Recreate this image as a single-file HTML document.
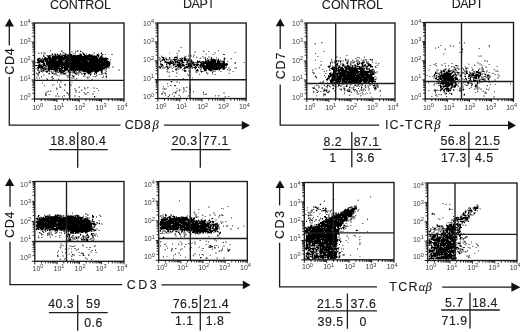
<!DOCTYPE html>
<html><head><meta charset="utf-8">
<style>
html,body{margin:0;padding:0;background:#fff;width:520px;height:332px;overflow:hidden}
svg{position:absolute;left:0;top:0;display:block}
#w{position:absolute;left:0;top:0;width:520px;height:332px;filter:grayscale(1)}
text{font-family:"Liberation Sans",sans-serif;fill:#1a1a1a}
.tl{font-size:7px;fill:#383838}
.sup{font-size:5.6px}
.t{font-size:12.5px;stroke:#1a1a1a;stroke-width:0.1px}
.ax{font-size:12.5px;stroke:#1a1a1a;stroke-width:0.12px}
.n{font-size:12.3px;letter-spacing:0.5px;stroke:#1a1a1a;stroke-width:0.15px}
.g{font-family:"Liberation Serif",serif;font-style:italic}
</style></head><body><div id="w">
<svg width="520" height="332" viewBox="0 0 520 332">
<path fill="#b4b4b4" d="M322 42h1v1h-1zM314 43h1v1h-1zM321 43h1v1h-1zM459 43h1v1h-1zM464 43h1v1h-1zM315 44h1v1h-1zM441 45h1v1h-1zM449 45h1v1h-1zM453 45h1v1h-1zM488 45h1v1h-1zM450 46h1v1h-1zM452 46h1v1h-1zM180 47h1v1h-1zM435 47h1v1h-1zM489 47h1v1h-1zM445 48h1v1h-1zM462 48h1v1h-1zM478 48h1v1h-1zM444 49h1v1h-1zM61 50h2v1h-2zM75 50h1v1h-1zM78 50h1v1h-1zM80 50h1v1h-1zM178 50h2v1h-2zM203 50h1v1h-1zM50 51h1v1h-1zM62 51h1v1h-1zM71 51h2v1h-2zM76 51h1v1h-1zM78 51h1v1h-1zM81 51h1v1h-1zM178 51h2v1h-2zM194 51h2v1h-2zM204 51h1v1h-1zM209 51h1v1h-1zM218 51h1v1h-1zM324 51h1v1h-1zM38 52h1v1h-1zM43 52h1v1h-1zM62 52h1v1h-1zM64 52h1v1h-1zM71 52h2v1h-2zM83 52h1v1h-1zM93 52h2v1h-2zM169 52h1v1h-1zM194 52h2v1h-2zM214 52h2v1h-2zM234 52h1v1h-1zM460 52h1v1h-1zM462 52h1v1h-1zM39 53h1v1h-1zM44 53h1v1h-1zM51 53h2v1h-2zM54 53h2v1h-2zM57 53h1v1h-1zM59 53h1v1h-1zM62 53h3v1h-3zM66 53h1v1h-1zM69 53h1v1h-1zM74 53h2v1h-2zM79 53h1v1h-1zM84 53h1v1h-1zM93 53h2v1h-2zM98 53h1v1h-1zM100 53h1v1h-1zM169 53h1v1h-1zM176 53h1v1h-1zM206 53h1v1h-1zM214 53h2v1h-2zM443 53h2v1h-2zM44 54h1v1h-1zM51 54h1v1h-1zM53 54h1v1h-1zM56 54h1v1h-1zM58 54h2v1h-2zM61 54h3v1h-3zM69 54h1v1h-1zM72 54h2v1h-2zM75 54h1v1h-1zM78 54h1v1h-1zM85 54h2v1h-2zM91 54h1v1h-1zM96 54h1v1h-1zM99 54h1v1h-1zM101 54h1v1h-1zM103 54h1v1h-1zM190 54h1v1h-1zM193 54h2v1h-2zM205 54h2v1h-2zM212 54h1v1h-1zM443 54h1v1h-1zM44 55h1v1h-1zM46 55h1v1h-1zM82 55h2v1h-2zM95 55h1v1h-1zM99 55h1v1h-1zM161 55h1v1h-1zM191 55h1v1h-1zM193 55h2v1h-2zM347 55h1v1h-1zM478 55h1v1h-1zM480 55h2v1h-2zM51 56h1v1h-1zM99 56h1v1h-1zM162 56h1v1h-1zM175 56h2v1h-2zM184 56h1v1h-1zM186 56h1v1h-1zM188 56h1v1h-1zM190 56h2v1h-2zM196 56h1v1h-1zM203 56h1v1h-1zM208 56h2v1h-2zM318 56h1v1h-1zM336 56h2v1h-2zM364 56h1v1h-1zM478 56h4v1h-4zM39 57h1v1h-1zM42 57h1v1h-1zM46 57h2v1h-2zM51 57h1v1h-1zM104 57h1v1h-1zM106 57h1v1h-1zM158 57h1v1h-1zM161 57h1v1h-1zM164 57h3v1h-3zM170 57h1v1h-1zM181 57h3v1h-3zM185 57h1v1h-1zM193 57h1v1h-1zM197 57h1v1h-1zM200 57h1v1h-1zM203 57h2v1h-2zM208 57h2v1h-2zM336 57h2v1h-2zM358 57h1v1h-1zM37 58h1v1h-1zM41 58h1v1h-1zM43 58h1v1h-1zM108 58h1v1h-1zM159 58h1v1h-1zM162 58h1v1h-1zM164 58h1v1h-1zM170 58h1v1h-1zM175 58h1v1h-1zM183 58h1v1h-1zM186 58h3v1h-3zM199 58h1v1h-1zM203 58h2v1h-2zM210 58h1v1h-1zM212 58h2v1h-2zM216 58h1v1h-1zM218 58h1v1h-1zM223 58h1v1h-1zM230 58h1v1h-1zM331 58h1v1h-1zM340 58h1v1h-1zM356 58h1v1h-1zM359 58h1v1h-1zM108 59h1v1h-1zM160 59h1v1h-1zM165 59h1v1h-1zM170 59h2v1h-2zM178 59h2v1h-2zM183 59h1v1h-1zM189 59h1v1h-1zM206 59h2v1h-2zM217 59h1v1h-1zM220 59h1v1h-1zM223 59h1v1h-1zM231 59h1v1h-1zM315 59h1v1h-1zM346 59h3v1h-3zM352 59h1v1h-1zM356 59h3v1h-3zM361 59h1v1h-1zM363 59h2v1h-2zM369 59h1v1h-1zM371 59h1v1h-1zM110 60h1v1h-1zM159 60h2v1h-2zM165 60h4v1h-4zM172 60h2v1h-2zM176 60h1v1h-1zM183 60h1v1h-1zM190 60h1v1h-1zM192 60h1v1h-1zM199 60h1v1h-1zM209 60h1v1h-1zM219 60h1v1h-1zM221 60h1v1h-1zM331 60h2v1h-2zM334 60h1v1h-1zM337 60h1v1h-1zM341 60h3v1h-3zM346 60h2v1h-2zM353 60h1v1h-1zM358 60h1v1h-1zM361 60h2v1h-2zM365 60h2v1h-2zM370 60h2v1h-2zM485 60h1v1h-1zM487 60h1v1h-1zM37 61h1v1h-1zM110 61h1v1h-1zM161 61h1v1h-1zM167 61h3v1h-3zM183 61h1v1h-1zM190 61h1v1h-1zM196 61h1v1h-1zM201 61h1v1h-1zM216 61h1v1h-1zM228 61h1v1h-1zM320 61h1v1h-1zM331 61h2v1h-2zM337 61h1v1h-1zM339 61h1v1h-1zM341 61h3v1h-3zM346 61h1v1h-1zM350 61h1v1h-1zM352 61h2v1h-2zM364 61h1v1h-1zM367 61h2v1h-2zM372 61h1v1h-1zM484 61h1v1h-1zM486 61h1v1h-1zM35 62h1v1h-1zM40 62h1v1h-1zM44 62h2v1h-2zM110 62h1v1h-1zM160 62h1v1h-1zM180 62h1v1h-1zM188 62h1v1h-1zM190 62h1v1h-1zM221 62h1v1h-1zM234 62h1v1h-1zM243 62h1v1h-1zM331 62h1v1h-1zM333 62h1v1h-1zM336 62h2v1h-2zM348 62h1v1h-1zM351 62h2v1h-2zM356 62h1v1h-1zM358 62h1v1h-1zM360 62h2v1h-2zM375 62h2v1h-2zM461 62h1v1h-1zM477 62h2v1h-2zM37 63h1v1h-1zM40 63h1v1h-1zM42 63h1v1h-1zM45 63h1v1h-1zM110 63h1v1h-1zM161 63h1v1h-1zM176 63h1v1h-1zM183 63h1v1h-1zM186 63h1v1h-1zM195 63h1v1h-1zM198 63h1v1h-1zM234 63h1v1h-1zM332 63h1v1h-1zM334 63h1v1h-1zM336 63h1v1h-1zM338 63h1v1h-1zM340 63h2v1h-2zM343 63h1v1h-1zM348 63h1v1h-1zM351 63h3v1h-3zM356 63h1v1h-1zM360 63h1v1h-1zM375 63h2v1h-2zM379 63h1v1h-1zM436 63h1v1h-1zM445 63h1v1h-1zM452 63h1v1h-1zM468 63h1v1h-1zM477 63h4v1h-4zM45 64h1v1h-1zM110 64h1v1h-1zM167 64h2v1h-2zM172 64h1v1h-1zM184 64h1v1h-1zM199 64h1v1h-1zM205 64h1v1h-1zM320 64h2v1h-2zM335 64h1v1h-1zM341 64h1v1h-1zM344 64h1v1h-1zM348 64h1v1h-1zM351 64h1v1h-1zM359 64h1v1h-1zM363 64h1v1h-1zM367 64h1v1h-1zM371 64h1v1h-1zM378 64h1v1h-1zM433 64h1v1h-1zM435 64h1v1h-1zM441 64h2v1h-2zM468 64h2v1h-2zM474 64h1v1h-1zM479 64h3v1h-3zM488 64h1v1h-1zM160 65h1v1h-1zM166 65h2v1h-2zM170 65h1v1h-1zM172 65h1v1h-1zM174 65h1v1h-1zM186 65h2v1h-2zM195 65h1v1h-1zM198 65h1v1h-1zM227 65h1v1h-1zM320 65h2v1h-2zM328 65h2v1h-2zM332 65h1v1h-1zM334 65h1v1h-1zM340 65h1v1h-1zM345 65h2v1h-2zM349 65h1v1h-1zM358 65h1v1h-1zM361 65h1v1h-1zM366 65h1v1h-1zM376 65h1v1h-1zM429 65h1v1h-1zM435 65h1v1h-1zM441 65h2v1h-2zM445 65h1v1h-1zM457 65h2v1h-2zM475 65h1v1h-1zM482 65h1v1h-1zM37 66h1v1h-1zM112 66h2v1h-2zM158 66h1v1h-1zM162 66h2v1h-2zM165 66h1v1h-1zM168 66h4v1h-4zM173 66h2v1h-2zM181 66h1v1h-1zM192 66h3v1h-3zM197 66h1v1h-1zM199 66h1v1h-1zM225 66h1v1h-1zM327 66h1v1h-1zM333 66h1v1h-1zM337 66h1v1h-1zM340 66h2v1h-2zM343 66h1v1h-1zM351 66h1v1h-1zM353 66h1v1h-1zM369 66h1v1h-1zM436 66h1v1h-1zM448 66h1v1h-1zM452 66h3v1h-3zM457 66h2v1h-2zM464 66h2v1h-2zM485 66h2v1h-2zM496 66h1v1h-1zM47 67h1v1h-1zM60 67h1v1h-1zM109 67h1v1h-1zM112 67h2v1h-2zM161 67h2v1h-2zM166 67h1v1h-1zM170 67h2v1h-2zM173 67h5v1h-5zM189 67h1v1h-1zM228 67h2v1h-2zM234 67h2v1h-2zM318 67h1v1h-1zM331 67h1v1h-1zM337 67h1v1h-1zM357 67h1v1h-1zM364 67h2v1h-2zM371 67h1v1h-1zM451 67h1v1h-1zM453 67h1v1h-1zM455 67h2v1h-2zM462 67h1v1h-1zM465 67h1v1h-1zM467 67h1v1h-1zM471 67h2v1h-2zM481 67h1v1h-1zM485 67h2v1h-2zM39 68h1v1h-1zM68 68h1v1h-1zM105 68h1v1h-1zM108 68h2v1h-2zM159 68h1v1h-1zM163 68h2v1h-2zM171 68h1v1h-1zM175 68h1v1h-1zM178 68h2v1h-2zM181 68h1v1h-1zM186 68h2v1h-2zM189 68h1v1h-1zM191 68h1v1h-1zM194 68h1v1h-1zM196 68h1v1h-1zM199 68h2v1h-2zM225 68h1v1h-1zM228 68h2v1h-2zM234 68h3v1h-3zM315 68h2v1h-2zM319 68h1v1h-1zM329 68h1v1h-1zM339 68h1v1h-1zM344 68h1v1h-1zM365 68h1v1h-1zM444 68h3v1h-3zM448 68h1v1h-1zM454 68h1v1h-1zM456 68h2v1h-2zM459 68h1v1h-1zM463 68h1v1h-1zM468 68h1v1h-1zM472 68h1v1h-1zM480 68h2v1h-2zM483 68h1v1h-1zM40 69h1v1h-1zM63 69h1v1h-1zM104 69h1v1h-1zM118 69h2v1h-2zM166 69h1v1h-1zM168 69h1v1h-1zM177 69h1v1h-1zM179 69h1v1h-1zM183 69h1v1h-1zM195 69h2v1h-2zM198 69h1v1h-1zM201 69h1v1h-1zM207 69h1v1h-1zM220 69h1v1h-1zM229 69h1v1h-1zM312 69h2v1h-2zM316 69h1v1h-1zM323 69h1v1h-1zM331 69h1v1h-1zM344 69h1v1h-1zM370 69h1v1h-1zM429 69h1v1h-1zM436 69h3v1h-3zM443 69h1v1h-1zM446 69h1v1h-1zM449 69h1v1h-1zM452 69h1v1h-1zM456 69h2v1h-2zM459 69h1v1h-1zM465 69h1v1h-1zM473 69h1v1h-1zM479 69h1v1h-1zM481 69h1v1h-1zM493 69h1v1h-1zM39 70h1v1h-1zM46 70h1v1h-1zM50 70h2v1h-2zM53 70h1v1h-1zM58 70h1v1h-1zM104 70h3v1h-3zM118 70h2v1h-2zM167 70h1v1h-1zM172 70h1v1h-1zM175 70h1v1h-1zM182 70h2v1h-2zM186 70h1v1h-1zM188 70h2v1h-2zM195 70h1v1h-1zM200 70h2v1h-2zM208 70h1v1h-1zM212 70h1v1h-1zM214 70h2v1h-2zM218 70h1v1h-1zM228 70h1v1h-1zM230 70h1v1h-1zM312 70h2v1h-2zM330 70h1v1h-1zM358 70h1v1h-1zM366 70h3v1h-3zM373 70h1v1h-1zM428 70h2v1h-2zM436 70h3v1h-3zM442 70h1v1h-1zM445 70h3v1h-3zM454 70h1v1h-1zM463 70h1v1h-1zM465 70h1v1h-1zM467 70h1v1h-1zM471 70h1v1h-1zM473 70h1v1h-1zM481 70h1v1h-1zM483 70h1v1h-1zM486 70h2v1h-2zM495 70h3v1h-3zM38 71h1v1h-1zM40 71h1v1h-1zM44 71h1v1h-1zM48 71h1v1h-1zM50 71h1v1h-1zM52 71h1v1h-1zM54 71h1v1h-1zM65 71h1v1h-1zM67 71h1v1h-1zM70 71h2v1h-2zM81 71h1v1h-1zM100 71h1v1h-1zM105 71h1v1h-1zM166 71h1v1h-1zM169 71h1v1h-1zM186 71h1v1h-1zM188 71h1v1h-1zM195 71h1v1h-1zM198 71h1v1h-1zM203 71h3v1h-3zM210 71h2v1h-2zM214 71h1v1h-1zM221 71h1v1h-1zM232 71h1v1h-1zM312 71h1v1h-1zM326 71h1v1h-1zM376 71h2v1h-2zM435 71h3v1h-3zM440 71h1v1h-1zM445 71h1v1h-1zM451 71h1v1h-1zM455 71h3v1h-3zM475 71h1v1h-1zM479 71h3v1h-3zM487 71h1v1h-1zM495 71h2v1h-2zM498 71h1v1h-1zM36 72h1v1h-1zM42 72h1v1h-1zM49 72h1v1h-1zM53 72h1v1h-1zM64 72h4v1h-4zM71 72h1v1h-1zM81 72h1v1h-1zM83 72h3v1h-3zM92 72h1v1h-1zM94 72h1v1h-1zM97 72h1v1h-1zM104 72h1v1h-1zM167 72h2v1h-2zM176 72h2v1h-2zM189 72h1v1h-1zM195 72h1v1h-1zM197 72h1v1h-1zM207 72h1v1h-1zM314 72h1v1h-1zM331 72h2v1h-2zM336 72h1v1h-1zM376 72h2v1h-2zM437 72h1v1h-1zM439 72h1v1h-1zM442 72h2v1h-2zM450 72h1v1h-1zM464 72h2v1h-2zM471 72h2v1h-2zM475 72h1v1h-1zM481 72h1v1h-1zM484 72h1v1h-1zM488 72h1v1h-1zM39 73h1v1h-1zM51 73h1v1h-1zM56 73h1v1h-1zM66 73h1v1h-1zM70 73h1v1h-1zM72 73h2v1h-2zM79 73h1v1h-1zM91 73h1v1h-1zM95 73h1v1h-1zM104 73h1v1h-1zM176 73h2v1h-2zM187 73h1v1h-1zM199 73h1v1h-1zM206 73h1v1h-1zM208 73h1v1h-1zM228 73h1v1h-1zM326 73h1v1h-1zM369 73h1v1h-1zM375 73h2v1h-2zM434 73h1v1h-1zM440 73h1v1h-1zM454 73h1v1h-1zM457 73h1v1h-1zM459 73h1v1h-1zM461 73h2v1h-2zM465 73h1v1h-1zM476 73h2v1h-2zM481 73h1v1h-1zM483 73h3v1h-3zM43 74h1v1h-1zM48 74h2v1h-2zM53 74h1v1h-1zM60 74h3v1h-3zM68 74h1v1h-1zM77 74h1v1h-1zM82 74h1v1h-1zM88 74h2v1h-2zM91 74h1v1h-1zM95 74h2v1h-2zM100 74h1v1h-1zM102 74h1v1h-1zM105 74h2v1h-2zM187 74h2v1h-2zM207 74h1v1h-1zM212 74h1v1h-1zM214 74h1v1h-1zM313 74h1v1h-1zM435 74h1v1h-1zM438 74h1v1h-1zM459 74h3v1h-3zM464 74h1v1h-1zM474 74h1v1h-1zM486 74h1v1h-1zM494 74h1v1h-1zM497 74h1v1h-1zM37 75h1v1h-1zM43 75h2v1h-2zM58 75h2v1h-2zM66 75h1v1h-1zM71 75h1v1h-1zM73 75h2v1h-2zM78 75h1v1h-1zM83 75h2v1h-2zM97 75h1v1h-1zM103 75h1v1h-1zM105 75h2v1h-2zM169 75h1v1h-1zM189 75h1v1h-1zM315 75h1v1h-1zM426 75h1v1h-1zM435 75h1v1h-1zM437 75h2v1h-2zM451 75h1v1h-1zM457 75h1v1h-1zM459 75h1v1h-1zM461 75h1v1h-1zM464 75h2v1h-2zM485 75h2v1h-2zM490 75h1v1h-1zM498 75h2v1h-2zM38 76h1v1h-1zM51 76h1v1h-1zM59 76h1v1h-1zM66 76h3v1h-3zM74 76h1v1h-1zM85 76h1v1h-1zM87 76h3v1h-3zM94 76h1v1h-1zM96 76h1v1h-1zM105 76h1v1h-1zM168 76h1v1h-1zM175 76h1v1h-1zM314 76h1v1h-1zM316 76h1v1h-1zM325 76h1v1h-1zM374 76h1v1h-1zM430 76h1v1h-1zM433 76h1v1h-1zM435 76h1v1h-1zM437 76h1v1h-1zM454 76h1v1h-1zM459 76h1v1h-1zM480 76h1v1h-1zM482 76h2v1h-2zM486 76h1v1h-1zM498 76h2v1h-2zM36 77h2v1h-2zM39 77h1v1h-1zM41 77h1v1h-1zM67 77h1v1h-1zM69 77h1v1h-1zM71 77h2v1h-2zM74 77h1v1h-1zM86 77h1v1h-1zM88 77h2v1h-2zM95 77h1v1h-1zM103 77h1v1h-1zM105 77h1v1h-1zM192 77h1v1h-1zM315 77h1v1h-1zM327 77h1v1h-1zM330 77h1v1h-1zM374 77h1v1h-1zM376 77h1v1h-1zM433 77h3v1h-3zM437 77h1v1h-1zM453 77h1v1h-1zM465 77h1v1h-1zM468 77h2v1h-2zM477 77h1v1h-1zM483 77h1v1h-1zM485 77h1v1h-1zM490 77h1v1h-1zM497 77h2v1h-2zM36 78h2v1h-2zM47 78h1v1h-1zM58 78h1v1h-1zM71 78h4v1h-4zM77 78h1v1h-1zM88 78h1v1h-1zM106 78h1v1h-1zM182 78h1v1h-1zM192 78h1v1h-1zM316 78h1v1h-1zM326 78h1v1h-1zM374 78h3v1h-3zM433 78h2v1h-2zM438 78h1v1h-1zM462 78h2v1h-2zM477 78h1v1h-1zM479 78h1v1h-1zM483 78h1v1h-1zM485 78h1v1h-1zM489 78h1v1h-1zM497 78h2v1h-2zM51 79h1v1h-1zM59 79h1v1h-1zM75 79h2v1h-2zM91 79h1v1h-1zM328 79h1v1h-1zM330 79h1v1h-1zM376 79h1v1h-1zM435 79h1v1h-1zM458 79h1v1h-1zM462 79h2v1h-2zM465 79h1v1h-1zM469 79h1v1h-1zM475 79h4v1h-4zM485 79h1v1h-1zM487 79h1v1h-1zM489 79h1v1h-1zM494 79h2v1h-2zM75 80h2v1h-2zM92 80h1v1h-1zM323 80h1v1h-1zM329 80h1v1h-1zM374 80h2v1h-2zM437 80h1v1h-1zM457 80h3v1h-3zM464 80h1v1h-1zM468 80h1v1h-1zM478 80h1v1h-1zM480 80h1v1h-1zM483 80h1v1h-1zM488 80h2v1h-2zM494 80h2v1h-2zM57 81h1v1h-1zM60 81h2v1h-2zM170 81h1v1h-1zM172 81h1v1h-1zM176 81h2v1h-2zM320 81h1v1h-1zM322 81h1v1h-1zM334 81h1v1h-1zM362 81h1v1h-1zM437 81h1v1h-1zM439 81h1v1h-1zM461 81h1v1h-1zM464 81h1v1h-1zM466 81h1v1h-1zM468 81h1v1h-1zM475 81h1v1h-1zM478 81h1v1h-1zM481 81h2v1h-2zM485 81h1v1h-1zM491 81h1v1h-1zM42 82h1v1h-1zM60 82h2v1h-2zM71 82h2v1h-2zM171 82h1v1h-1zM176 82h2v1h-2zM319 82h1v1h-1zM321 82h1v1h-1zM340 82h1v1h-1zM362 82h1v1h-1zM370 82h1v1h-1zM373 82h3v1h-3zM437 82h1v1h-1zM458 82h1v1h-1zM464 82h1v1h-1zM466 82h1v1h-1zM470 82h2v1h-2zM478 82h1v1h-1zM480 82h3v1h-3zM488 82h1v1h-1zM492 82h1v1h-1zM179 83h1v1h-1zM323 83h1v1h-1zM327 83h1v1h-1zM331 83h1v1h-1zM334 83h1v1h-1zM340 83h1v1h-1zM346 83h1v1h-1zM350 83h2v1h-2zM362 83h1v1h-1zM368 83h2v1h-2zM371 83h1v1h-1zM375 83h2v1h-2zM428 83h1v1h-1zM435 83h1v1h-1zM454 83h1v1h-1zM459 83h1v1h-1zM463 83h1v1h-1zM469 83h1v1h-1zM476 83h1v1h-1zM478 83h2v1h-2zM52 84h3v1h-3zM70 84h2v1h-2zM167 84h1v1h-1zM327 84h2v1h-2zM331 84h2v1h-2zM334 84h1v1h-1zM336 84h1v1h-1zM341 84h1v1h-1zM344 84h1v1h-1zM349 84h2v1h-2zM354 84h1v1h-1zM357 84h1v1h-1zM359 84h2v1h-2zM371 84h2v1h-2zM375 84h1v1h-1zM433 84h2v1h-2zM436 84h1v1h-1zM439 84h1v1h-1zM441 84h1v1h-1zM444 84h1v1h-1zM453 84h2v1h-2zM462 84h1v1h-1zM465 84h1v1h-1zM467 84h2v1h-2zM494 84h1v1h-1zM510 84h1v1h-1zM59 85h1v1h-1zM64 85h2v1h-2zM70 85h2v1h-2zM171 85h1v1h-1zM189 85h1v1h-1zM315 85h1v1h-1zM317 85h1v1h-1zM329 85h1v1h-1zM334 85h1v1h-1zM340 85h1v1h-1zM345 85h1v1h-1zM347 85h1v1h-1zM356 85h1v1h-1zM360 85h1v1h-1zM364 85h1v1h-1zM367 85h3v1h-3zM372 85h1v1h-1zM375 85h1v1h-1zM378 85h1v1h-1zM433 85h2v1h-2zM441 85h2v1h-2zM453 85h1v1h-1zM457 85h2v1h-2zM462 85h2v1h-2zM472 85h1v1h-1zM486 85h1v1h-1zM44 86h1v1h-1zM59 86h1v1h-1zM79 86h1v1h-1zM167 86h2v1h-2zM175 86h1v1h-1zM186 86h1v1h-1zM190 86h1v1h-1zM314 86h1v1h-1zM318 86h1v1h-1zM325 86h1v1h-1zM333 86h2v1h-2zM336 86h2v1h-2zM341 86h1v1h-1zM343 86h3v1h-3zM349 86h2v1h-2zM353 86h2v1h-2zM357 86h2v1h-2zM364 86h1v1h-1zM367 86h1v1h-1zM373 86h1v1h-1zM376 86h1v1h-1zM449 86h1v1h-1zM457 86h1v1h-1zM462 86h2v1h-2zM471 86h1v1h-1zM474 86h1v1h-1zM56 87h1v1h-1zM59 87h1v1h-1zM61 87h1v1h-1zM78 87h1v1h-1zM88 87h1v1h-1zM93 87h2v1h-2zM163 87h1v1h-1zM184 87h1v1h-1zM187 87h1v1h-1zM190 87h1v1h-1zM319 87h1v1h-1zM321 87h1v1h-1zM326 87h1v1h-1zM330 87h1v1h-1zM333 87h1v1h-1zM336 87h1v1h-1zM343 87h2v1h-2zM350 87h3v1h-3zM354 87h1v1h-1zM362 87h1v1h-1zM366 87h1v1h-1zM377 87h1v1h-1zM442 87h1v1h-1zM444 87h2v1h-2zM448 87h1v1h-1zM455 87h1v1h-1zM459 87h5v1h-5zM470 87h1v1h-1zM475 87h1v1h-1zM478 87h2v1h-2zM489 87h1v1h-1zM57 88h1v1h-1zM74 88h2v1h-2zM85 88h1v1h-1zM87 88h1v1h-1zM93 88h2v1h-2zM96 88h1v1h-1zM162 88h2v1h-2zM165 88h2v1h-2zM176 88h2v1h-2zM184 88h1v1h-1zM190 88h1v1h-1zM312 88h1v1h-1zM315 88h1v1h-1zM318 88h1v1h-1zM321 88h1v1h-1zM327 88h1v1h-1zM339 88h3v1h-3zM345 88h1v1h-1zM348 88h2v1h-2zM351 88h2v1h-2zM363 88h2v1h-2zM368 88h1v1h-1zM443 88h2v1h-2zM462 88h2v1h-2zM474 88h3v1h-3zM478 88h4v1h-4zM486 88h1v1h-1zM489 88h1v1h-1zM57 89h1v1h-1zM64 89h1v1h-1zM74 89h2v1h-2zM81 89h1v1h-1zM84 89h2v1h-2zM162 89h2v1h-2zM165 89h2v1h-2zM183 89h2v1h-2zM316 89h1v1h-1zM323 89h1v1h-1zM325 89h1v1h-1zM333 89h1v1h-1zM339 89h1v1h-1zM343 89h1v1h-1zM345 89h1v1h-1zM350 89h1v1h-1zM360 89h1v1h-1zM362 89h1v1h-1zM364 89h2v1h-2zM368 89h2v1h-2zM374 89h1v1h-1zM376 89h1v1h-1zM437 89h1v1h-1zM451 89h1v1h-1zM454 89h1v1h-1zM457 89h1v1h-1zM459 89h1v1h-1zM462 89h1v1h-1zM464 89h1v1h-1zM475 89h1v1h-1zM478 89h1v1h-1zM480 89h2v1h-2zM487 89h1v1h-1zM48 90h1v1h-1zM50 90h1v1h-1zM65 90h1v1h-1zM76 90h1v1h-1zM82 90h1v1h-1zM176 90h2v1h-2zM180 90h1v1h-1zM183 90h1v1h-1zM189 90h2v1h-2zM313 90h1v1h-1zM327 90h3v1h-3zM345 90h2v1h-2zM348 90h1v1h-1zM350 90h1v1h-1zM353 90h1v1h-1zM355 90h1v1h-1zM357 90h1v1h-1zM359 90h2v1h-2zM362 90h1v1h-1zM368 90h2v1h-2zM374 90h2v1h-2zM379 90h1v1h-1zM429 90h1v1h-1zM433 90h1v1h-1zM438 90h2v1h-2zM454 90h1v1h-1zM457 90h1v1h-1zM462 90h1v1h-1zM477 90h1v1h-1zM483 90h1v1h-1zM488 90h1v1h-1zM46 91h2v1h-2zM51 91h1v1h-1zM75 91h2v1h-2zM79 91h1v1h-1zM93 91h1v1h-1zM162 91h2v1h-2zM175 91h3v1h-3zM179 91h1v1h-1zM183 91h1v1h-1zM185 91h1v1h-1zM190 91h1v1h-1zM203 91h1v1h-1zM314 91h1v1h-1zM317 91h1v1h-1zM321 91h1v1h-1zM327 91h1v1h-1zM334 91h1v1h-1zM344 91h1v1h-1zM350 91h2v1h-2zM356 91h1v1h-1zM362 91h1v1h-1zM379 91h1v1h-1zM434 91h1v1h-1zM440 91h1v1h-1zM443 91h1v1h-1zM446 91h1v1h-1zM449 91h2v1h-2zM459 91h2v1h-2zM478 91h1v1h-1zM482 91h1v1h-1zM45 92h3v1h-3zM75 92h2v1h-2zM78 92h1v1h-1zM83 92h1v1h-1zM162 92h4v1h-4zM174 92h1v1h-1zM176 92h1v1h-1zM189 92h1v1h-1zM223 92h2v1h-2zM314 92h1v1h-1zM316 92h1v1h-1zM326 92h1v1h-1zM350 92h1v1h-1zM356 92h1v1h-1zM361 92h1v1h-1zM366 92h1v1h-1zM369 92h2v1h-2zM443 92h1v1h-1zM445 92h2v1h-2zM449 92h1v1h-1zM484 92h1v1h-1zM486 92h1v1h-1zM494 92h1v1h-1zM46 93h1v1h-1zM68 93h1v1h-1zM84 93h2v1h-2zM92 93h2v1h-2zM172 93h1v1h-1zM176 93h1v1h-1zM203 93h1v1h-1zM206 93h1v1h-1zM223 93h2v1h-2zM324 93h2v1h-2zM356 93h4v1h-4zM362 93h2v1h-2zM365 93h3v1h-3zM369 93h2v1h-2zM435 93h1v1h-1zM444 93h1v1h-1zM464 93h1v1h-1zM484 93h1v1h-1zM46 94h1v1h-1zM48 94h1v1h-1zM57 94h1v1h-1zM84 94h1v1h-1zM86 94h1v1h-1zM92 94h2v1h-2zM161 94h1v1h-1zM165 94h1v1h-1zM179 94h1v1h-1zM204 94h1v1h-1zM344 94h1v1h-1zM349 94h1v1h-1zM357 94h1v1h-1zM362 94h4v1h-4zM435 94h1v1h-1zM438 94h1v1h-1zM440 94h1v1h-1zM446 94h1v1h-1zM452 94h1v1h-1zM463 94h1v1h-1zM55 95h2v1h-2zM58 95h1v1h-1zM63 95h1v1h-1zM68 95h1v1h-1zM74 95h2v1h-2zM174 95h1v1h-1zM178 95h1v1h-1zM189 95h1v1h-1zM219 95h1v1h-1zM324 95h2v1h-2zM350 95h1v1h-1zM361 95h1v1h-1zM436 95h2v1h-2zM441 95h1v1h-1zM463 95h1v1h-1zM483 95h2v1h-2zM55 96h2v1h-2zM59 96h1v1h-1zM64 96h1v1h-1zM74 96h2v1h-2zM78 96h1v1h-1zM95 96h1v1h-1zM167 96h1v1h-1zM173 96h1v1h-1zM187 96h2v1h-2zM215 96h1v1h-1zM218 96h1v1h-1zM224 96h1v1h-1zM229 96h1v1h-1zM316 96h1v1h-1zM323 96h1v1h-1zM360 96h1v1h-1zM371 96h1v1h-1zM380 96h1v1h-1zM432 96h1v1h-1zM436 96h2v1h-2zM483 96h2v1h-2zM493 96h2v1h-2zM62 97h1v1h-1zM79 97h1v1h-1zM180 97h1v1h-1zM225 97h1v1h-1zM371 97h2v1h-2zM493 97h2v1h-2zM370 197h1v1h-1zM334 199h1v1h-1zM358 199h1v1h-1zM324 200h1v1h-1zM357 200h1v1h-1zM179 201h1v1h-1zM323 201h1v1h-1zM320 203h1v1h-1zM442 203h1v1h-1zM319 204h1v1h-1zM446 204h1v1h-1zM450 204h1v1h-1zM476 204h2v1h-2zM354 205h1v1h-1zM356 205h1v1h-1zM476 205h1v1h-1zM478 205h1v1h-1zM208 206h2v1h-2zM228 206h1v1h-1zM314 206h1v1h-1zM316 206h1v1h-1zM350 206h1v1h-1zM352 206h1v1h-1zM475 206h2v1h-2zM208 207h2v1h-2zM314 207h1v1h-1zM323 207h1v1h-1zM325 207h1v1h-1zM353 207h1v1h-1zM468 207h1v1h-1zM470 207h1v1h-1zM472 207h1v1h-1zM478 207h1v1h-1zM222 208h2v1h-2zM307 208h1v1h-1zM345 208h1v1h-1zM349 208h2v1h-2zM450 208h1v1h-1zM472 208h1v1h-1zM478 208h3v1h-3zM199 209h1v1h-1zM223 209h1v1h-1zM311 209h2v1h-2zM316 209h2v1h-2zM326 209h1v1h-1zM331 209h1v1h-1zM349 209h1v1h-1zM359 209h1v1h-1zM450 209h2v1h-2zM467 209h2v1h-2zM476 209h1v1h-1zM480 209h1v1h-1zM306 210h2v1h-2zM317 210h1v1h-1zM327 210h1v1h-1zM330 210h1v1h-1zM343 210h1v1h-1zM357 210h2v1h-2zM466 210h2v1h-2zM472 210h1v1h-1zM476 210h2v1h-2zM194 211h1v1h-1zM311 211h2v1h-2zM316 211h1v1h-1zM321 211h3v1h-3zM327 211h1v1h-1zM329 211h1v1h-1zM340 211h2v1h-2zM357 211h2v1h-2zM464 211h1v1h-1zM477 211h1v1h-1zM72 212h1v1h-1zM193 212h1v1h-1zM198 212h1v1h-1zM213 212h2v1h-2zM307 212h1v1h-1zM309 212h1v1h-1zM314 212h1v1h-1zM326 212h1v1h-1zM329 212h2v1h-2zM334 212h2v1h-2zM338 212h1v1h-1zM354 212h1v1h-1zM464 212h1v1h-1zM466 212h1v1h-1zM471 212h1v1h-1zM473 212h1v1h-1zM475 212h1v1h-1zM86 213h1v1h-1zM194 213h2v1h-2zM198 213h1v1h-1zM213 213h2v1h-2zM308 213h3v1h-3zM319 213h2v1h-2zM325 213h1v1h-1zM331 213h1v1h-1zM337 213h1v1h-1zM339 213h1v1h-1zM354 213h1v1h-1zM431 213h1v1h-1zM434 213h1v1h-1zM462 213h1v1h-1zM469 213h1v1h-1zM473 213h1v1h-1zM475 213h1v1h-1zM44 214h1v1h-1zM48 214h1v1h-1zM56 214h1v1h-1zM58 214h3v1h-3zM66 214h1v1h-1zM68 214h1v1h-1zM76 214h2v1h-2zM85 214h2v1h-2zM88 214h1v1h-1zM99 214h1v1h-1zM162 214h2v1h-2zM166 214h1v1h-1zM170 214h1v1h-1zM194 214h1v1h-1zM196 214h1v1h-1zM202 214h1v1h-1zM209 214h2v1h-2zM214 214h2v1h-2zM219 214h1v1h-1zM222 214h1v1h-1zM306 214h1v1h-1zM309 214h1v1h-1zM311 214h1v1h-1zM319 214h1v1h-1zM327 214h1v1h-1zM329 214h1v1h-1zM331 214h2v1h-2zM334 214h1v1h-1zM431 214h1v1h-1zM433 214h1v1h-1zM461 214h1v1h-1zM465 214h1v1h-1zM472 214h3v1h-3zM45 215h2v1h-2zM48 215h1v1h-1zM50 215h1v1h-1zM54 215h1v1h-1zM62 215h1v1h-1zM64 215h1v1h-1zM69 215h1v1h-1zM73 215h1v1h-1zM79 215h1v1h-1zM83 215h1v1h-1zM88 215h1v1h-1zM93 215h1v1h-1zM100 215h1v1h-1zM161 215h3v1h-3zM195 215h1v1h-1zM203 215h1v1h-1zM209 215h2v1h-2zM214 215h2v1h-2zM220 215h2v1h-2zM223 215h1v1h-1zM307 215h1v1h-1zM312 215h1v1h-1zM329 215h1v1h-1zM331 215h1v1h-1zM352 215h2v1h-2zM356 215h1v1h-1zM460 215h3v1h-3zM470 215h4v1h-4zM37 216h1v1h-1zM40 216h1v1h-1zM43 216h2v1h-2zM64 216h1v1h-1zM80 216h1v1h-1zM82 216h1v1h-1zM85 216h2v1h-2zM101 216h1v1h-1zM159 216h1v1h-1zM161 216h2v1h-2zM165 216h2v1h-2zM168 216h1v1h-1zM171 216h1v1h-1zM175 216h1v1h-1zM180 216h1v1h-1zM182 216h2v1h-2zM185 216h2v1h-2zM195 216h1v1h-1zM197 216h2v1h-2zM204 216h1v1h-1zM218 216h2v1h-2zM318 216h1v1h-1zM329 216h1v1h-1zM354 216h2v1h-2zM457 216h1v1h-1zM462 216h1v1h-1zM464 216h1v1h-1zM466 216h2v1h-2zM44 217h1v1h-1zM85 217h2v1h-2zM88 217h2v1h-2zM162 217h1v1h-1zM166 217h1v1h-1zM171 217h2v1h-2zM189 217h1v1h-1zM192 217h2v1h-2zM197 217h2v1h-2zM218 217h2v1h-2zM308 217h3v1h-3zM320 217h1v1h-1zM327 217h1v1h-1zM349 217h3v1h-3zM353 217h1v1h-1zM355 217h1v1h-1zM442 217h2v1h-2zM459 217h1v1h-1zM35 218h1v1h-1zM83 218h1v1h-1zM88 218h1v1h-1zM92 218h1v1h-1zM161 218h1v1h-1zM168 218h1v1h-1zM188 218h1v1h-1zM192 218h1v1h-1zM213 218h1v1h-1zM231 218h1v1h-1zM321 218h1v1h-1zM325 218h1v1h-1zM352 218h1v1h-1zM354 218h1v1h-1zM367 218h1v1h-1zM442 218h1v1h-1zM453 218h1v1h-1zM469 218h1v1h-1zM36 219h1v1h-1zM93 219h1v1h-1zM160 219h1v1h-1zM198 219h1v1h-1zM200 219h1v1h-1zM204 219h2v1h-2zM215 219h2v1h-2zM309 219h1v1h-1zM312 219h1v1h-1zM320 219h1v1h-1zM348 219h2v1h-2zM353 219h1v1h-1zM440 219h1v1h-1zM451 219h1v1h-1zM453 219h1v1h-1zM463 219h2v1h-2zM468 219h1v1h-1zM36 220h1v1h-1zM91 220h1v1h-1zM98 220h1v1h-1zM160 220h1v1h-1zM200 220h1v1h-1zM210 220h1v1h-1zM212 220h1v1h-1zM215 220h2v1h-2zM306 220h1v1h-1zM310 220h1v1h-1zM315 220h2v1h-2zM318 220h1v1h-1zM349 220h1v1h-1zM351 220h1v1h-1zM452 220h1v1h-1zM458 220h2v1h-2zM461 220h3v1h-3zM468 220h1v1h-1zM206 221h2v1h-2zM209 221h1v1h-1zM214 221h1v1h-1zM220 221h3v1h-3zM226 221h1v1h-1zM309 221h2v1h-2zM312 221h1v1h-1zM319 221h1v1h-1zM321 221h1v1h-1zM345 221h1v1h-1zM347 221h2v1h-2zM350 221h2v1h-2zM451 221h1v1h-1zM455 221h2v1h-2zM459 221h1v1h-1zM465 221h3v1h-3zM35 222h1v1h-1zM92 222h1v1h-1zM99 222h1v1h-1zM206 222h1v1h-1zM211 222h1v1h-1zM216 222h2v1h-2zM220 222h4v1h-4zM309 222h4v1h-4zM350 222h2v1h-2zM447 222h1v1h-1zM449 222h1v1h-1zM452 222h2v1h-2zM457 222h1v1h-1zM36 223h1v1h-1zM95 223h2v1h-2zM98 223h1v1h-1zM101 223h2v1h-2zM210 223h3v1h-3zM214 223h1v1h-1zM310 223h3v1h-3zM345 223h1v1h-1zM363 223h1v1h-1zM446 223h1v1h-1zM449 223h2v1h-2zM452 223h1v1h-1zM455 223h1v1h-1zM459 223h3v1h-3zM464 223h1v1h-1zM99 224h1v1h-1zM101 224h2v1h-2zM171 224h1v1h-1zM199 224h1v1h-1zM219 224h1v1h-1zM310 224h2v1h-2zM314 224h2v1h-2zM320 224h1v1h-1zM342 224h3v1h-3zM436 224h1v1h-1zM448 224h1v1h-1zM452 224h1v1h-1zM461 224h3v1h-3zM465 224h1v1h-1zM93 225h1v1h-1zM223 225h1v1h-1zM226 225h1v1h-1zM228 225h1v1h-1zM243 225h1v1h-1zM315 225h1v1h-1zM345 225h3v1h-3zM351 225h1v1h-1zM436 225h1v1h-1zM440 225h1v1h-1zM442 225h1v1h-1zM456 225h1v1h-1zM462 225h2v1h-2zM466 225h1v1h-1zM93 226h1v1h-1zM95 226h1v1h-1zM160 226h1v1h-1zM214 226h1v1h-1zM219 226h1v1h-1zM227 226h1v1h-1zM232 226h1v1h-1zM243 226h2v1h-2zM307 226h1v1h-1zM309 226h1v1h-1zM348 226h1v1h-1zM432 226h1v1h-1zM436 226h1v1h-1zM443 226h1v1h-1zM461 226h1v1h-1zM36 227h1v1h-1zM54 227h2v1h-2zM211 227h1v1h-1zM218 227h1v1h-1zM238 227h1v1h-1zM339 227h3v1h-3zM345 227h1v1h-1zM433 227h4v1h-4zM440 227h2v1h-2zM446 227h1v1h-1zM458 227h1v1h-1zM93 228h2v1h-2zM96 228h2v1h-2zM179 228h1v1h-1zM230 228h2v1h-2zM237 228h1v1h-1zM336 228h1v1h-1zM342 228h1v1h-1zM344 228h1v1h-1zM346 228h1v1h-1zM431 228h1v1h-1zM440 228h1v1h-1zM96 229h2v1h-2zM164 229h2v1h-2zM211 229h2v1h-2zM219 229h1v1h-1zM230 229h2v1h-2zM305 229h1v1h-1zM341 229h1v1h-1zM344 229h1v1h-1zM356 229h1v1h-1zM431 229h2v1h-2zM437 229h1v1h-1zM440 229h2v1h-2zM460 229h1v1h-1zM36 230h1v1h-1zM40 230h2v1h-2zM43 230h1v1h-1zM46 230h1v1h-1zM48 230h1v1h-1zM51 230h3v1h-3zM59 230h1v1h-1zM66 230h1v1h-1zM92 230h1v1h-1zM96 230h1v1h-1zM98 230h1v1h-1zM159 230h1v1h-1zM162 230h1v1h-1zM164 230h2v1h-2zM169 230h1v1h-1zM174 230h1v1h-1zM177 230h4v1h-4zM217 230h1v1h-1zM339 230h1v1h-1zM355 230h1v1h-1zM429 230h1v1h-1zM431 230h1v1h-1zM435 230h6v1h-6zM460 230h1v1h-1zM46 231h1v1h-1zM49 231h3v1h-3zM54 231h1v1h-1zM56 231h1v1h-1zM65 231h1v1h-1zM90 231h1v1h-1zM92 231h3v1h-3zM163 231h1v1h-1zM166 231h1v1h-1zM169 231h1v1h-1zM171 231h1v1h-1zM173 231h1v1h-1zM179 231h1v1h-1zM183 231h1v1h-1zM185 231h1v1h-1zM191 231h1v1h-1zM213 231h1v1h-1zM220 231h1v1h-1zM339 231h1v1h-1zM341 231h1v1h-1zM343 231h1v1h-1zM347 231h1v1h-1zM428 231h1v1h-1zM433 231h1v1h-1zM438 231h2v1h-2zM441 231h2v1h-2zM445 231h1v1h-1zM448 231h1v1h-1zM454 231h1v1h-1zM38 232h1v1h-1zM40 232h1v1h-1zM44 232h1v1h-1zM48 232h1v1h-1zM50 232h2v1h-2zM57 232h1v1h-1zM60 232h2v1h-2zM65 232h3v1h-3zM74 232h1v1h-1zM84 232h1v1h-1zM167 232h3v1h-3zM172 232h1v1h-1zM175 232h2v1h-2zM182 232h2v1h-2zM185 232h1v1h-1zM204 232h1v1h-1zM206 232h1v1h-1zM214 232h2v1h-2zM217 232h2v1h-2zM340 232h1v1h-1zM346 232h2v1h-2zM367 232h1v1h-1zM431 232h2v1h-2zM434 232h1v1h-1zM436 232h3v1h-3zM440 232h2v1h-2zM460 232h2v1h-2zM39 233h1v1h-1zM50 233h1v1h-1zM54 233h1v1h-1zM56 233h1v1h-1zM66 233h2v1h-2zM69 233h1v1h-1zM74 233h1v1h-1zM79 233h2v1h-2zM86 233h2v1h-2zM95 233h2v1h-2zM163 233h1v1h-1zM166 233h4v1h-4zM174 233h2v1h-2zM180 233h1v1h-1zM183 233h2v1h-2zM190 233h2v1h-2zM193 233h2v1h-2zM202 233h1v1h-1zM206 233h1v1h-1zM208 233h3v1h-3zM339 233h1v1h-1zM431 233h2v1h-2zM438 233h1v1h-1zM446 233h1v1h-1zM459 233h1v1h-1zM461 233h1v1h-1zM464 233h1v1h-1zM43 234h1v1h-1zM50 234h2v1h-2zM70 234h1v1h-1zM81 234h1v1h-1zM86 234h1v1h-1zM90 234h1v1h-1zM93 234h1v1h-1zM95 234h2v1h-2zM174 234h1v1h-1zM179 234h1v1h-1zM183 234h1v1h-1zM185 234h1v1h-1zM191 234h1v1h-1zM195 234h1v1h-1zM198 234h2v1h-2zM217 234h3v1h-3zM305 234h1v1h-1zM307 234h1v1h-1zM429 234h2v1h-2zM434 234h1v1h-1zM441 234h1v1h-1zM448 234h1v1h-1zM458 234h1v1h-1zM38 235h1v1h-1zM41 235h2v1h-2zM48 235h3v1h-3zM59 235h1v1h-1zM66 235h1v1h-1zM70 235h1v1h-1zM82 235h1v1h-1zM91 235h1v1h-1zM97 235h1v1h-1zM175 235h2v1h-2zM180 235h1v1h-1zM185 235h2v1h-2zM219 235h1v1h-1zM339 235h1v1h-1zM346 235h2v1h-2zM353 235h1v1h-1zM355 235h1v1h-1zM454 235h1v1h-1zM456 235h3v1h-3zM462 235h1v1h-1zM50 236h1v1h-1zM56 236h1v1h-1zM59 236h1v1h-1zM68 236h1v1h-1zM71 236h1v1h-1zM73 236h1v1h-1zM75 236h3v1h-3zM86 236h2v1h-2zM89 236h1v1h-1zM95 236h1v1h-1zM163 236h1v1h-1zM175 236h2v1h-2zM180 236h2v1h-2zM183 236h1v1h-1zM209 236h1v1h-1zM218 236h1v1h-1zM305 236h1v1h-1zM337 236h3v1h-3zM346 236h2v1h-2zM359 236h2v1h-2zM436 236h1v1h-1zM457 236h1v1h-1zM465 236h1v1h-1zM39 237h1v1h-1zM42 237h1v1h-1zM60 237h1v1h-1zM67 237h1v1h-1zM73 237h1v1h-1zM77 237h1v1h-1zM79 237h1v1h-1zM81 237h2v1h-2zM84 237h1v1h-1zM162 237h1v1h-1zM164 237h1v1h-1zM180 237h2v1h-2zM184 237h1v1h-1zM219 237h2v1h-2zM337 237h3v1h-3zM348 237h1v1h-1zM359 237h1v1h-1zM430 237h1v1h-1zM457 237h1v1h-1zM464 237h1v1h-1zM466 237h2v1h-2zM38 238h1v1h-1zM75 238h1v1h-1zM77 238h1v1h-1zM80 238h1v1h-1zM82 238h1v1h-1zM84 238h1v1h-1zM88 238h1v1h-1zM92 238h3v1h-3zM183 238h1v1h-1zM219 238h2v1h-2zM305 238h1v1h-1zM337 238h1v1h-1zM339 238h2v1h-2zM429 238h1v1h-1zM441 238h1v1h-1zM457 238h1v1h-1zM459 238h1v1h-1zM461 238h2v1h-2zM465 238h1v1h-1zM67 239h1v1h-1zM71 239h3v1h-3zM75 239h1v1h-1zM77 239h1v1h-1zM88 239h2v1h-2zM91 239h4v1h-4zM215 239h1v1h-1zM340 239h1v1h-1zM360 239h1v1h-1zM428 239h1v1h-1zM457 239h1v1h-1zM459 239h1v1h-1zM461 239h2v1h-2zM71 240h2v1h-2zM82 240h1v1h-1zM85 240h1v1h-1zM88 240h1v1h-1zM91 240h1v1h-1zM199 240h1v1h-1zM206 240h1v1h-1zM214 240h2v1h-2zM321 240h1v1h-1zM338 240h1v1h-1zM340 240h1v1h-1zM345 240h1v1h-1zM359 240h1v1h-1zM431 240h2v1h-2zM449 240h1v1h-1zM460 240h1v1h-1zM463 240h2v1h-2zM161 241h1v1h-1zM179 241h2v1h-2zM194 241h2v1h-2zM205 241h2v1h-2zM216 241h1v1h-1zM225 241h2v1h-2zM305 241h1v1h-1zM321 241h1v1h-1zM338 241h1v1h-1zM428 241h1v1h-1zM463 241h1v1h-1zM471 241h1v1h-1zM160 242h1v1h-1zM180 242h2v1h-2zM192 242h1v1h-1zM194 242h2v1h-2zM208 242h1v1h-1zM222 242h1v1h-1zM225 242h2v1h-2zM305 242h1v1h-1zM337 242h1v1h-1zM347 242h2v1h-2zM359 242h2v1h-2zM452 242h1v1h-1zM457 242h1v1h-1zM460 242h1v1h-1zM462 242h2v1h-2zM60 243h2v1h-2zM165 243h1v1h-1zM172 243h1v1h-1zM178 243h1v1h-1zM181 243h2v1h-2zM189 243h1v1h-1zM191 243h2v1h-2zM194 243h2v1h-2zM311 243h1v1h-1zM359 243h2v1h-2zM432 243h1v1h-1zM456 243h2v1h-2zM462 243h2v1h-2zM465 243h1v1h-1zM475 243h1v1h-1zM60 244h2v1h-2zM82 244h1v1h-1zM179 244h1v1h-1zM181 244h2v1h-2zM186 244h1v1h-1zM194 244h2v1h-2zM205 244h1v1h-1zM229 244h1v1h-1zM305 244h1v1h-1zM311 244h1v1h-1zM315 244h2v1h-2zM337 244h1v1h-1zM360 244h1v1h-1zM428 244h1v1h-1zM439 244h1v1h-1zM457 244h4v1h-4zM464 244h1v1h-1zM468 244h1v1h-1zM476 244h1v1h-1zM60 245h3v1h-3zM69 245h2v1h-2zM74 245h2v1h-2zM95 245h1v1h-1zM166 245h1v1h-1zM181 245h1v1h-1zM209 245h1v1h-1zM211 245h1v1h-1zM215 245h1v1h-1zM217 245h1v1h-1zM223 245h2v1h-2zM305 245h1v1h-1zM337 245h1v1h-1zM343 245h1v1h-1zM430 245h1v1h-1zM432 245h2v1h-2zM456 245h1v1h-1zM461 245h1v1h-1zM465 245h1v1h-1zM60 246h2v1h-2zM69 246h2v1h-2zM74 246h1v1h-1zM83 246h1v1h-1zM95 246h1v1h-1zM160 246h1v1h-1zM199 246h1v1h-1zM208 246h1v1h-1zM214 246h1v1h-1zM218 246h1v1h-1zM223 246h2v1h-2zM305 246h1v1h-1zM315 246h1v1h-1zM433 246h1v1h-1zM442 246h1v1h-1zM456 246h2v1h-2zM459 246h1v1h-1zM473 246h1v1h-1zM478 246h1v1h-1zM59 247h1v1h-1zM87 247h1v1h-1zM167 247h1v1h-1zM184 247h1v1h-1zM190 247h1v1h-1zM198 247h2v1h-2zM208 247h1v1h-1zM211 247h2v1h-2zM222 247h1v1h-1zM312 247h1v1h-1zM315 247h1v1h-1zM337 247h1v1h-1zM339 247h1v1h-1zM430 247h1v1h-1zM462 247h1v1h-1zM467 247h1v1h-1zM469 247h2v1h-2zM475 247h1v1h-1zM60 248h1v1h-1zM65 248h1v1h-1zM68 248h2v1h-2zM71 248h1v1h-1zM78 248h1v1h-1zM171 248h1v1h-1zM176 248h1v1h-1zM181 248h2v1h-2zM189 248h2v1h-2zM212 248h1v1h-1zM215 248h1v1h-1zM227 248h1v1h-1zM316 248h1v1h-1zM343 248h1v1h-1zM429 248h2v1h-2zM461 248h2v1h-2zM469 248h2v1h-2zM68 249h1v1h-1zM71 249h1v1h-1zM76 249h2v1h-2zM88 249h1v1h-1zM95 249h1v1h-1zM164 249h1v1h-1zM172 249h1v1h-1zM181 249h2v1h-2zM189 249h2v1h-2zM211 249h1v1h-1zM221 249h2v1h-2zM228 249h1v1h-1zM230 249h1v1h-1zM307 249h1v1h-1zM311 249h1v1h-1zM337 249h1v1h-1zM341 249h1v1h-1zM357 249h1v1h-1zM428 249h1v1h-1zM431 249h1v1h-1zM450 249h1v1h-1zM457 249h1v1h-1zM459 249h1v1h-1zM58 250h1v1h-1zM77 250h1v1h-1zM91 250h1v1h-1zM165 250h1v1h-1zM172 250h1v1h-1zM180 250h1v1h-1zM201 250h1v1h-1zM220 250h1v1h-1zM227 250h1v1h-1zM306 250h2v1h-2zM311 250h1v1h-1zM314 250h1v1h-1zM330 250h1v1h-1zM334 250h1v1h-1zM337 250h2v1h-2zM428 250h1v1h-1zM435 250h1v1h-1zM457 250h1v1h-1zM459 250h1v1h-1zM461 250h3v1h-3zM62 251h1v1h-1zM71 251h1v1h-1zM90 251h2v1h-2zM171 251h1v1h-1zM218 251h1v1h-1zM221 251h1v1h-1zM227 251h1v1h-1zM308 251h2v1h-2zM317 251h2v1h-2zM338 251h1v1h-1zM342 251h1v1h-1zM435 251h1v1h-1zM459 251h2v1h-2zM462 251h1v1h-1zM464 251h1v1h-1zM466 251h2v1h-2zM478 251h1v1h-1zM66 252h1v1h-1zM78 252h1v1h-1zM81 252h2v1h-2zM90 252h2v1h-2zM95 252h1v1h-1zM178 252h2v1h-2zM215 252h2v1h-2zM306 252h1v1h-1zM310 252h1v1h-1zM317 252h1v1h-1zM337 252h2v1h-2zM456 252h1v1h-1zM460 252h1v1h-1zM462 252h1v1h-1zM465 252h2v1h-2zM57 253h1v1h-1zM65 253h1v1h-1zM69 253h1v1h-1zM80 253h1v1h-1zM175 253h1v1h-1zM178 253h2v1h-2zM194 253h2v1h-2zM215 253h2v1h-2zM305 253h1v1h-1zM310 253h1v1h-1zM314 253h1v1h-1zM326 253h1v1h-1zM340 253h1v1h-1zM448 253h1v1h-1zM452 253h1v1h-1zM454 253h2v1h-2zM458 253h1v1h-1zM461 253h1v1h-1zM475 253h1v1h-1zM68 254h2v1h-2zM73 254h2v1h-2zM82 254h1v1h-1zM89 254h1v1h-1zM174 254h1v1h-1zM180 254h1v1h-1zM194 254h2v1h-2zM201 254h1v1h-1zM203 254h1v1h-1zM210 254h1v1h-1zM322 254h1v1h-1zM338 254h2v1h-2zM342 254h1v1h-1zM350 254h1v1h-1zM429 254h1v1h-1zM432 254h1v1h-1zM459 254h1v1h-1zM58 255h1v1h-1zM62 255h2v1h-2zM71 255h3v1h-3zM80 255h1v1h-1zM82 255h1v1h-1zM84 255h1v1h-1zM89 255h1v1h-1zM199 255h1v1h-1zM209 255h2v1h-2zM305 255h1v1h-1zM307 255h1v1h-1zM309 255h1v1h-1zM311 255h1v1h-1zM338 255h1v1h-1zM340 255h1v1h-1zM342 255h1v1h-1zM344 255h1v1h-1zM466 255h3v1h-3zM62 256h2v1h-2zM72 256h1v1h-1zM166 256h2v1h-2zM173 256h1v1h-1zM185 256h1v1h-1zM193 256h1v1h-1zM305 256h1v1h-1zM313 256h1v1h-1zM338 256h1v1h-1zM340 256h1v1h-1zM359 256h2v1h-2zM438 256h1v1h-1zM455 256h1v1h-1zM466 256h2v1h-2zM469 256h1v1h-1zM207 257h1v1h-1zM216 257h2v1h-2zM223 257h2v1h-2zM305 257h1v1h-1zM329 257h1v1h-1zM429 257h1v1h-1zM435 257h1v1h-1zM456 257h1v1h-1zM60 258h1v1h-1zM64 258h1v1h-1zM66 258h1v1h-1zM71 258h1v1h-1zM85 258h3v1h-3zM200 258h1v1h-1zM205 258h1v1h-1zM207 258h1v1h-1zM216 258h2v1h-2zM223 258h2v1h-2zM317 258h1v1h-1zM324 258h2v1h-2zM336 258h1v1h-1zM338 258h1v1h-1zM428 258h1v1h-1zM59 259h1v1h-1zM72 259h1v1h-1zM86 259h2v1h-2zM173 259h1v1h-1zM428 259h1v1h-1zM430 259h3v1h-3zM434 259h2v1h-2zM441 259h2v1h-2zM444 259h1v1h-1zM449 259h1v1h-1zM455 259h1v1h-1zM73 260h1v1h-1z"/>
<path fill="#787878" d="M321 42h1v1h-1zM459 42h1v1h-1zM464 42h1v1h-1zM315 43h1v1h-1zM440 45h1v1h-1zM450 45h1v1h-1zM489 45h1v1h-1zM453 46h1v1h-1zM489 46h1v1h-1zM181 47h1v1h-1zM435 48h1v1h-1zM479 48h1v1h-1zM445 49h1v1h-1zM50 50h1v1h-1zM77 50h1v1h-1zM218 50h1v1h-1zM75 51h1v1h-1zM77 51h1v1h-1zM203 51h1v1h-1zM208 51h1v1h-1zM323 51h1v1h-1zM462 51h1v1h-1zM41 52h1v1h-1zM44 52h1v1h-1zM63 52h1v1h-1zM75 52h1v1h-1zM82 52h1v1h-1zM101 52h1v1h-1zM235 52h1v1h-1zM459 52h1v1h-1zM38 53h1v1h-1zM41 53h1v1h-1zM45 53h1v1h-1zM60 53h1v1h-1zM65 53h1v1h-1zM70 53h1v1h-1zM73 53h1v1h-1zM80 53h1v1h-1zM82 53h1v1h-1zM86 53h1v1h-1zM177 53h1v1h-1zM43 54h1v1h-1zM54 54h1v1h-1zM64 54h1v1h-1zM67 54h2v1h-2zM79 54h1v1h-1zM88 54h1v1h-1zM90 54h1v1h-1zM92 54h1v1h-1zM111 54h2v1h-2zM213 54h1v1h-1zM43 55h1v1h-1zM48 55h1v1h-1zM51 55h4v1h-4zM56 55h1v1h-1zM60 55h1v1h-1zM66 55h1v1h-1zM93 55h1v1h-1zM96 55h1v1h-1zM102 55h1v1h-1zM177 55h1v1h-1zM188 55h1v1h-1zM190 55h1v1h-1zM346 55h1v1h-1zM44 56h1v1h-1zM47 56h1v1h-1zM50 56h1v1h-1zM63 56h1v1h-1zM97 56h1v1h-1zM102 56h1v1h-1zM161 56h1v1h-1zM177 56h1v1h-1zM185 56h1v1h-1zM193 56h1v1h-1zM202 56h1v1h-1zM317 56h1v1h-1zM44 57h1v1h-1zM98 57h2v1h-2zM103 57h1v1h-1zM105 57h1v1h-1zM159 57h1v1h-1zM196 57h1v1h-1zM216 57h1v1h-1zM224 57h1v1h-1zM340 57h1v1h-1zM359 57h1v1h-1zM364 57h1v1h-1zM40 58h1v1h-1zM98 58h1v1h-1zM160 58h1v1h-1zM165 58h2v1h-2zM174 58h1v1h-1zM176 58h2v1h-2zM179 58h1v1h-1zM181 58h1v1h-1zM200 58h1v1h-1zM205 58h1v1h-1zM225 58h1v1h-1zM231 58h1v1h-1zM345 58h1v1h-1zM355 58h1v1h-1zM39 59h1v1h-1zM42 59h1v1h-1zM57 59h1v1h-1zM65 59h1v1h-1zM107 59h1v1h-1zM110 59h1v1h-1zM159 59h1v1h-1zM167 59h3v1h-3zM172 59h1v1h-1zM177 59h1v1h-1zM180 59h1v1h-1zM182 59h1v1h-1zM187 59h1v1h-1zM191 59h1v1h-1zM208 59h3v1h-3zM215 59h2v1h-2zM331 59h1v1h-1zM365 59h2v1h-2zM44 60h1v1h-1zM48 60h1v1h-1zM57 60h1v1h-1zM64 60h1v1h-1zM161 60h1v1h-1zM163 60h1v1h-1zM171 60h1v1h-1zM186 60h1v1h-1zM189 60h1v1h-1zM197 60h1v1h-1zM206 60h1v1h-1zM210 60h1v1h-1zM216 60h1v1h-1zM223 60h2v1h-2zM315 60h1v1h-1zM335 60h1v1h-1zM339 60h2v1h-2zM348 60h1v1h-1zM352 60h1v1h-1zM356 60h2v1h-2zM363 60h2v1h-2zM372 60h1v1h-1zM484 60h1v1h-1zM44 61h1v1h-1zM63 61h1v1h-1zM88 61h1v1h-1zM109 61h1v1h-1zM164 61h1v1h-1zM166 61h1v1h-1zM173 61h2v1h-2zM178 61h2v1h-2zM186 61h1v1h-1zM188 61h1v1h-1zM192 61h2v1h-2zM200 61h1v1h-1zM204 61h1v1h-1zM220 61h1v1h-1zM227 61h1v1h-1zM321 61h1v1h-1zM334 61h1v1h-1zM338 61h1v1h-1zM347 61h2v1h-2zM351 61h1v1h-1zM356 61h4v1h-4zM362 61h2v1h-2zM461 61h1v1h-1zM487 61h1v1h-1zM36 62h1v1h-1zM164 62h1v1h-1zM172 62h1v1h-1zM174 62h1v1h-1zM181 62h1v1h-1zM184 62h1v1h-1zM186 62h1v1h-1zM194 62h3v1h-3zM199 62h1v1h-1zM202 62h1v1h-1zM216 62h1v1h-1zM220 62h1v1h-1zM222 62h1v1h-1zM244 62h1v1h-1zM332 62h1v1h-1zM334 62h1v1h-1zM346 62h1v1h-1zM350 62h1v1h-1zM354 62h1v1h-1zM357 62h1v1h-1zM366 62h3v1h-3zM372 62h1v1h-1zM38 63h2v1h-2zM166 63h1v1h-1zM174 63h2v1h-2zM177 63h1v1h-1zM182 63h1v1h-1zM187 63h1v1h-1zM194 63h1v1h-1zM196 63h2v1h-2zM200 63h1v1h-1zM225 63h1v1h-1zM227 63h1v1h-1zM235 63h1v1h-1zM342 63h1v1h-1zM346 63h1v1h-1zM358 63h1v1h-1zM363 63h1v1h-1zM366 63h1v1h-1zM369 63h1v1h-1zM378 63h1v1h-1zM435 63h1v1h-1zM444 63h1v1h-1zM451 63h1v1h-1zM38 64h1v1h-1zM40 64h3v1h-3zM175 64h2v1h-2zM181 64h1v1h-1zM185 64h1v1h-1zM187 64h1v1h-1zM192 64h1v1h-1zM204 64h1v1h-1zM330 64h1v1h-1zM340 64h1v1h-1zM342 64h1v1h-1zM347 64h1v1h-1zM354 64h2v1h-2zM361 64h1v1h-1zM364 64h1v1h-1zM434 64h1v1h-1zM489 64h1v1h-1zM42 65h1v1h-1zM46 65h1v1h-1zM161 65h1v1h-1zM163 65h1v1h-1zM175 65h2v1h-2zM192 65h2v1h-2zM330 65h1v1h-1zM338 65h2v1h-2zM344 65h1v1h-1zM350 65h2v1h-2zM353 65h2v1h-2zM356 65h2v1h-2zM363 65h1v1h-1zM367 65h1v1h-1zM371 65h1v1h-1zM377 65h1v1h-1zM430 65h1v1h-1zM436 65h1v1h-1zM448 65h1v1h-1zM474 65h1v1h-1zM481 65h1v1h-1zM44 66h2v1h-2zM47 66h1v1h-1zM63 66h1v1h-1zM109 66h1v1h-1zM160 66h1v1h-1zM177 66h1v1h-1zM182 66h4v1h-4zM196 66h1v1h-1zM198 66h1v1h-1zM201 66h1v1h-1zM226 66h1v1h-1zM330 66h1v1h-1zM332 66h1v1h-1zM334 66h2v1h-2zM338 66h1v1h-1zM342 66h1v1h-1zM350 66h1v1h-1zM354 66h1v1h-1zM356 66h1v1h-1zM360 66h2v1h-2zM364 66h2v1h-2zM368 66h1v1h-1zM445 66h1v1h-1zM451 66h1v1h-1zM497 66h1v1h-1zM43 67h1v1h-1zM45 67h2v1h-2zM108 67h1v1h-1zM163 67h3v1h-3zM168 67h1v1h-1zM179 67h1v1h-1zM188 67h1v1h-1zM191 67h1v1h-1zM193 67h1v1h-1zM199 67h2v1h-2zM202 67h1v1h-1zM225 67h2v1h-2zM236 67h1v1h-1zM319 67h1v1h-1zM328 67h1v1h-1zM353 67h1v1h-1zM356 67h1v1h-1zM358 67h1v1h-1zM362 67h2v1h-2zM367 67h1v1h-1zM370 67h1v1h-1zM372 67h1v1h-1zM375 67h2v1h-2zM457 67h1v1h-1zM466 67h1v1h-1zM36 68h2v1h-2zM46 68h1v1h-1zM63 68h1v1h-1zM160 68h1v1h-1zM162 68h1v1h-1zM172 68h1v1h-1zM176 68h2v1h-2zM180 68h1v1h-1zM183 68h1v1h-1zM188 68h1v1h-1zM192 68h1v1h-1zM201 68h1v1h-1zM221 68h1v1h-1zM330 68h1v1h-1zM369 68h1v1h-1zM449 68h1v1h-1zM455 68h1v1h-1zM458 68h1v1h-1zM462 68h1v1h-1zM466 68h2v1h-2zM479 68h1v1h-1zM482 68h1v1h-1zM37 69h2v1h-2zM42 69h1v1h-1zM46 69h2v1h-2zM58 69h1v1h-1zM62 69h1v1h-1zM68 69h1v1h-1zM103 69h1v1h-1zM105 69h2v1h-2zM167 69h1v1h-1zM178 69h1v1h-1zM182 69h1v1h-1zM184 69h1v1h-1zM203 69h1v1h-1zM218 69h1v1h-1zM222 69h1v1h-1zM224 69h1v1h-1zM230 69h1v1h-1zM322 69h1v1h-1zM329 69h1v1h-1zM337 69h1v1h-1zM347 69h1v1h-1zM358 69h1v1h-1zM364 69h1v1h-1zM368 69h1v1h-1zM371 69h1v1h-1zM444 69h1v1h-1zM448 69h1v1h-1zM453 69h2v1h-2zM458 69h1v1h-1zM466 69h1v1h-1zM472 69h1v1h-1zM478 69h1v1h-1zM482 69h2v1h-2zM494 69h1v1h-1zM37 70h1v1h-1zM40 70h3v1h-3zM44 70h2v1h-2zM47 70h1v1h-1zM67 70h1v1h-1zM70 70h1v1h-1zM78 70h1v1h-1zM176 70h1v1h-1zM198 70h1v1h-1zM213 70h1v1h-1zM219 70h1v1h-1zM229 70h1v1h-1zM326 70h1v1h-1zM329 70h1v1h-1zM348 70h1v1h-1zM364 70h2v1h-2zM374 70h1v1h-1zM440 70h2v1h-2zM444 70h1v1h-1zM450 70h4v1h-4zM455 70h2v1h-2zM464 70h1v1h-1zM466 70h1v1h-1zM472 70h1v1h-1zM482 70h1v1h-1zM39 71h1v1h-1zM42 71h2v1h-2zM45 71h1v1h-1zM51 71h1v1h-1zM53 71h1v1h-1zM57 71h2v1h-2zM69 71h1v1h-1zM72 71h1v1h-1zM75 71h2v1h-2zM78 71h1v1h-1zM80 71h1v1h-1zM82 71h1v1h-1zM93 71h1v1h-1zM102 71h1v1h-1zM106 71h1v1h-1zM167 71h1v1h-1zM172 71h2v1h-2zM189 71h1v1h-1zM196 71h2v1h-2zM200 71h1v1h-1zM212 71h2v1h-2zM215 71h1v1h-1zM220 71h1v1h-1zM233 71h1v1h-1zM337 71h1v1h-1zM340 71h1v1h-1zM442 71h1v1h-1zM446 71h2v1h-2zM454 71h1v1h-1zM464 71h2v1h-2zM467 71h1v1h-1zM469 71h1v1h-1zM473 71h2v1h-2zM478 71h1v1h-1zM484 71h1v1h-1zM486 71h1v1h-1zM497 71h1v1h-1zM38 72h1v1h-1zM46 72h2v1h-2zM51 72h2v1h-2zM55 72h5v1h-5zM68 72h2v1h-2zM72 72h1v1h-1zM75 72h5v1h-5zM86 72h1v1h-1zM91 72h1v1h-1zM102 72h1v1h-1zM105 72h1v1h-1zM169 72h1v1h-1zM196 72h1v1h-1zM201 72h1v1h-1zM206 72h1v1h-1zM312 72h2v1h-2zM330 72h1v1h-1zM337 72h1v1h-1zM359 72h1v1h-1zM374 72h1v1h-1zM436 72h1v1h-1zM444 72h2v1h-2zM449 72h1v1h-1zM451 72h1v1h-1zM453 72h1v1h-1zM455 72h2v1h-2zM459 72h1v1h-1zM463 72h1v1h-1zM467 72h1v1h-1zM469 72h2v1h-2zM473 72h2v1h-2zM486 72h1v1h-1zM489 72h1v1h-1zM36 73h3v1h-3zM48 73h1v1h-1zM53 73h3v1h-3zM60 73h1v1h-1zM62 73h1v1h-1zM69 73h1v1h-1zM74 73h1v1h-1zM76 73h3v1h-3zM81 73h3v1h-3zM87 73h1v1h-1zM90 73h1v1h-1zM101 73h3v1h-3zM207 73h1v1h-1zM212 73h1v1h-1zM229 73h1v1h-1zM313 73h2v1h-2zM325 73h1v1h-1zM331 73h2v1h-2zM346 73h1v1h-1zM358 73h1v1h-1zM368 73h1v1h-1zM374 73h1v1h-1zM437 73h1v1h-1zM439 73h1v1h-1zM441 73h1v1h-1zM443 73h1v1h-1zM452 73h1v1h-1zM458 73h1v1h-1zM463 73h2v1h-2zM469 73h1v1h-1zM471 73h1v1h-1zM474 73h2v1h-2zM482 73h1v1h-1zM492 73h2v1h-2zM37 74h2v1h-2zM54 74h2v1h-2zM63 74h3v1h-3zM69 74h2v1h-2zM75 74h1v1h-1zM78 74h1v1h-1zM81 74h1v1h-1zM85 74h1v1h-1zM99 74h1v1h-1zM101 74h1v1h-1zM199 74h1v1h-1zM215 74h1v1h-1zM329 74h1v1h-1zM356 74h1v1h-1zM374 74h1v1h-1zM440 74h1v1h-1zM442 74h1v1h-1zM451 74h1v1h-1zM453 74h1v1h-1zM456 74h3v1h-3zM468 74h1v1h-1zM470 74h1v1h-1zM478 74h2v1h-2zM481 74h2v1h-2zM484 74h1v1h-1zM487 74h2v1h-2zM495 74h1v1h-1zM498 74h1v1h-1zM38 75h1v1h-1zM57 75h1v1h-1zM67 75h2v1h-2zM90 75h1v1h-1zM96 75h1v1h-1zM329 75h1v1h-1zM338 75h1v1h-1zM372 75h1v1h-1zM427 75h1v1h-1zM433 75h1v1h-1zM439 75h1v1h-1zM454 75h2v1h-2zM468 75h1v1h-1zM489 75h1v1h-1zM69 76h1v1h-1zM72 76h1v1h-1zM83 76h2v1h-2zM93 76h1v1h-1zM95 76h1v1h-1zM103 76h1v1h-1zM169 76h1v1h-1zM176 76h1v1h-1zM331 76h1v1h-1zM355 76h1v1h-1zM372 76h1v1h-1zM375 76h1v1h-1zM429 76h1v1h-1zM432 76h1v1h-1zM434 76h1v1h-1zM455 76h2v1h-2zM460 76h1v1h-1zM464 76h1v1h-1zM470 76h1v1h-1zM472 76h2v1h-2zM477 76h1v1h-1zM481 76h1v1h-1zM488 76h3v1h-3zM51 77h2v1h-2zM68 77h1v1h-1zM73 77h1v1h-1zM87 77h1v1h-1zM106 77h1v1h-1zM325 77h1v1h-1zM331 77h1v1h-1zM336 77h1v1h-1zM342 77h1v1h-1zM438 77h1v1h-1zM441 77h1v1h-1zM471 77h2v1h-2zM479 77h1v1h-1zM481 77h2v1h-2zM486 77h3v1h-3zM39 78h1v1h-1zM46 78h1v1h-1zM52 78h2v1h-2zM76 78h1v1h-1zM87 78h1v1h-1zM183 78h1v1h-1zM329 78h1v1h-1zM331 78h1v1h-1zM362 78h1v1h-1zM454 78h1v1h-1zM466 78h1v1h-1zM469 78h1v1h-1zM474 78h1v1h-1zM481 78h2v1h-2zM484 78h1v1h-1zM487 78h1v1h-1zM52 79h1v1h-1zM58 79h1v1h-1zM92 79h1v1h-1zM329 79h1v1h-1zM374 79h1v1h-1zM436 79h1v1h-1zM439 79h1v1h-1zM442 79h1v1h-1zM454 79h1v1h-1zM459 79h1v1h-1zM464 79h1v1h-1zM474 79h1v1h-1zM479 79h3v1h-3zM326 80h2v1h-2zM341 80h1v1h-1zM438 80h2v1h-2zM441 80h1v1h-1zM455 80h1v1h-1zM466 80h1v1h-1zM471 80h1v1h-1zM476 80h1v1h-1zM485 80h1v1h-1zM323 81h1v1h-1zM333 81h1v1h-1zM341 81h1v1h-1zM438 81h1v1h-1zM453 81h1v1h-1zM457 81h2v1h-2zM460 81h1v1h-1zM467 81h1v1h-1zM469 81h1v1h-1zM471 81h1v1h-1zM480 81h1v1h-1zM484 81h1v1h-1zM492 81h1v1h-1zM57 82h1v1h-1zM179 82h1v1h-1zM320 82h1v1h-1zM323 82h1v1h-1zM327 82h1v1h-1zM333 82h1v1h-1zM341 82h1v1h-1zM361 82h1v1h-1zM367 82h1v1h-1zM371 82h1v1h-1zM428 82h1v1h-1zM439 82h2v1h-2zM449 82h1v1h-1zM456 82h1v1h-1zM463 82h1v1h-1zM465 82h1v1h-1zM469 82h1v1h-1zM479 82h1v1h-1zM489 82h1v1h-1zM42 83h1v1h-1zM167 83h1v1h-1zM332 83h1v1h-1zM341 83h2v1h-2zM344 83h1v1h-1zM347 83h1v1h-1zM352 83h1v1h-1zM356 83h1v1h-1zM358 83h1v1h-1zM360 83h1v1h-1zM363 83h1v1h-1zM372 83h1v1h-1zM434 83h1v1h-1zM436 83h2v1h-2zM439 83h1v1h-1zM453 83h1v1h-1zM456 83h1v1h-1zM458 83h1v1h-1zM462 83h1v1h-1zM467 83h1v1h-1zM470 83h1v1h-1zM472 83h1v1h-1zM510 83h1v1h-1zM59 84h1v1h-1zM64 84h1v1h-1zM333 84h1v1h-1zM338 84h1v1h-1zM342 84h2v1h-2zM346 84h2v1h-2zM351 84h1v1h-1zM355 84h1v1h-1zM361 84h2v1h-2zM369 84h2v1h-2zM374 84h1v1h-1zM376 84h2v1h-2zM440 84h1v1h-1zM457 84h1v1h-1zM464 84h1v1h-1zM471 84h1v1h-1zM475 84h3v1h-3zM495 84h1v1h-1zM44 85h1v1h-1zM52 85h1v1h-1zM190 85h1v1h-1zM316 85h1v1h-1zM318 85h1v1h-1zM328 85h1v1h-1zM341 85h1v1h-1zM350 85h1v1h-1zM354 85h1v1h-1zM357 85h2v1h-2zM361 85h2v1h-2zM370 85h1v1h-1zM376 85h1v1h-1zM438 85h2v1h-2zM443 85h1v1h-1zM450 85h1v1h-1zM456 85h1v1h-1zM467 85h1v1h-1zM477 85h1v1h-1zM60 86h1v1h-1zM163 86h1v1h-1zM319 86h1v1h-1zM326 86h2v1h-2zM330 86h1v1h-1zM338 86h1v1h-1zM340 86h1v1h-1zM347 86h1v1h-1zM356 86h1v1h-1zM359 86h1v1h-1zM361 86h1v1h-1zM365 86h1v1h-1zM368 86h1v1h-1zM374 86h2v1h-2zM378 86h1v1h-1zM442 86h1v1h-1zM458 86h1v1h-1zM477 86h1v1h-1zM60 87h1v1h-1zM79 87h1v1h-1zM84 87h1v1h-1zM87 87h1v1h-1zM183 87h1v1h-1zM186 87h1v1h-1zM189 87h1v1h-1zM312 87h3v1h-3zM318 87h1v1h-1zM322 87h1v1h-1zM327 87h1v1h-1zM335 87h1v1h-1zM353 87h1v1h-1zM368 87h1v1h-1zM373 87h2v1h-2zM376 87h1v1h-1zM378 87h1v1h-1zM446 87h1v1h-1zM450 87h1v1h-1zM452 87h2v1h-2zM471 87h1v1h-1zM476 87h2v1h-2zM56 88h1v1h-1zM84 88h1v1h-1zM97 88h1v1h-1zM164 88h1v1h-1zM183 88h1v1h-1zM189 88h1v1h-1zM322 88h1v1h-1zM324 88h1v1h-1zM332 88h1v1h-1zM343 88h1v1h-1zM353 88h1v1h-1zM369 88h1v1h-1zM376 88h1v1h-1zM440 88h1v1h-1zM449 88h1v1h-1zM459 88h2v1h-2zM477 88h1v1h-1zM56 89h1v1h-1zM164 89h1v1h-1zM189 89h2v1h-2zM315 89h1v1h-1zM324 89h1v1h-1zM340 89h1v1h-1zM347 89h3v1h-3zM354 89h1v1h-1zM361 89h1v1h-1zM363 89h1v1h-1zM375 89h1v1h-1zM434 89h2v1h-2zM440 89h1v1h-1zM442 89h2v1h-2zM445 89h1v1h-1zM450 89h1v1h-1zM460 89h2v1h-2zM474 89h1v1h-1zM477 89h1v1h-1zM486 89h1v1h-1zM488 89h1v1h-1zM64 90h1v1h-1zM81 90h1v1h-1zM179 90h1v1h-1zM184 90h1v1h-1zM317 90h1v1h-1zM323 90h1v1h-1zM334 90h1v1h-1zM341 90h1v1h-1zM344 90h1v1h-1zM354 90h1v1h-1zM356 90h1v1h-1zM363 90h1v1h-1zM365 90h1v1h-1zM380 90h1v1h-1zM428 90h1v1h-1zM437 90h1v1h-1zM441 90h1v1h-1zM453 90h1v1h-1zM461 90h1v1h-1zM463 90h1v1h-1zM48 91h1v1h-1zM50 91h1v1h-1zM94 91h1v1h-1zM186 91h1v1h-1zM313 91h1v1h-1zM320 91h1v1h-1zM323 91h2v1h-2zM326 91h1v1h-1zM328 91h1v1h-1zM347 91h1v1h-1zM354 91h1v1h-1zM357 91h1v1h-1zM359 91h1v1h-1zM380 91h1v1h-1zM435 91h1v1h-1zM447 91h1v1h-1zM477 91h1v1h-1zM483 91h1v1h-1zM485 91h1v1h-1zM494 91h1v1h-1zM66 92h2v1h-2zM79 92h1v1h-1zM84 92h1v1h-1zM87 92h2v1h-2zM173 92h1v1h-1zM183 92h1v1h-1zM190 92h1v1h-1zM313 92h1v1h-1zM344 92h1v1h-1zM351 92h1v1h-1zM357 92h1v1h-1zM362 92h1v1h-1zM444 92h1v1h-1zM485 92h1v1h-1zM45 93h1v1h-1zM86 93h1v1h-1zM161 93h2v1h-2zM164 93h2v1h-2zM175 93h1v1h-1zM323 93h1v1h-1zM344 93h1v1h-1zM360 93h1v1h-1zM445 93h1v1h-1zM449 93h2v1h-2zM485 93h2v1h-2zM49 94h1v1h-1zM68 94h1v1h-1zM85 94h1v1h-1zM162 94h1v1h-1zM169 94h1v1h-1zM172 94h1v1h-1zM203 94h1v1h-1zM206 94h1v1h-1zM323 94h1v1h-1zM358 94h1v1h-1zM436 94h1v1h-1zM439 94h1v1h-1zM441 94h1v1h-1zM445 94h1v1h-1zM45 95h2v1h-2zM64 95h1v1h-1zM165 95h1v1h-1zM169 95h1v1h-1zM179 95h1v1h-1zM188 95h1v1h-1zM215 95h1v1h-1zM218 95h1v1h-1zM316 95h1v1h-1zM323 95h1v1h-1zM349 95h1v1h-1zM360 95h1v1h-1zM380 95h1v1h-1zM435 95h1v1h-1zM464 95h1v1h-1zM58 96h1v1h-1zM62 96h1v1h-1zM79 96h1v1h-1zM174 96h1v1h-1zM180 96h1v1h-1zM225 96h1v1h-1zM228 96h1v1h-1zM431 96h1v1h-1zM94 97h1v1h-1zM370 196h1v1h-1zM333 199h1v1h-1zM179 200h1v1h-1zM358 200h1v1h-1zM324 201h1v1h-1zM443 203h1v1h-1zM445 204h1v1h-1zM449 204h1v1h-1zM355 205h1v1h-1zM477 205h1v1h-1zM227 206h1v1h-1zM313 206h1v1h-1zM315 206h1v1h-1zM351 206h1v1h-1zM355 206h2v1h-2zM474 206h1v1h-1zM478 206h1v1h-1zM307 207h1v1h-1zM313 207h1v1h-1zM317 207h2v1h-2zM352 207h1v1h-1zM354 207h1v1h-1zM469 207h1v1h-1zM473 207h1v1h-1zM221 208h1v1h-1zM316 208h1v1h-1zM318 208h1v1h-1zM326 208h1v1h-1zM347 208h1v1h-1zM351 208h1v1h-1zM449 208h1v1h-1zM468 208h2v1h-2zM473 208h1v1h-1zM198 209h1v1h-1zM318 209h2v1h-2zM324 209h2v1h-2zM344 209h1v1h-1zM350 209h1v1h-1zM355 209h2v1h-2zM358 209h1v1h-1zM452 209h1v1h-1zM469 209h3v1h-3zM473 209h2v1h-2zM312 210h1v1h-1zM321 210h2v1h-2zM326 210h1v1h-1zM328 210h1v1h-1zM331 210h1v1h-1zM354 210h1v1h-1zM465 210h1v1h-1zM474 210h1v1h-1zM310 211h1v1h-1zM325 211h1v1h-1zM342 211h1v1h-1zM354 211h2v1h-2zM466 211h1v1h-1zM468 211h3v1h-3zM472 211h1v1h-1zM194 212h1v1h-1zM310 212h2v1h-2zM313 212h1v1h-1zM325 212h1v1h-1zM327 212h1v1h-1zM336 212h1v1h-1zM340 212h1v1h-1zM469 212h2v1h-2zM474 212h1v1h-1zM72 213h1v1h-1zM85 213h1v1h-1zM332 213h1v1h-1zM334 213h3v1h-3zM433 213h1v1h-1zM464 213h2v1h-2zM470 213h1v1h-1zM49 214h1v1h-1zM55 214h1v1h-1zM57 214h1v1h-1zM87 214h1v1h-1zM171 214h1v1h-1zM195 214h1v1h-1zM221 214h1v1h-1zM305 214h1v1h-1zM308 214h1v1h-1zM310 214h1v1h-1zM328 214h1v1h-1zM432 214h1v1h-1zM467 214h3v1h-3zM471 214h1v1h-1zM39 215h1v1h-1zM44 215h1v1h-1zM47 215h1v1h-1zM61 215h1v1h-1zM66 215h3v1h-3zM71 215h2v1h-2zM74 215h1v1h-1zM87 215h1v1h-1zM99 215h1v1h-1zM160 215h1v1h-1zM170 215h2v1h-2zM173 215h1v1h-1zM187 215h1v1h-1zM196 215h1v1h-1zM202 215h1v1h-1zM219 215h1v1h-1zM309 215h3v1h-3zM328 215h1v1h-1zM332 215h1v1h-1zM355 215h1v1h-1zM466 215h2v1h-2zM469 215h1v1h-1zM49 216h1v1h-1zM58 216h1v1h-1zM62 216h2v1h-2zM66 216h1v1h-1zM74 216h1v1h-1zM76 216h1v1h-1zM79 216h1v1h-1zM83 216h1v1h-1zM96 216h1v1h-1zM100 216h1v1h-1zM160 216h1v1h-1zM163 216h1v1h-1zM170 216h1v1h-1zM176 216h1v1h-1zM181 216h1v1h-1zM187 216h1v1h-1zM189 216h2v1h-2zM196 216h1v1h-1zM205 216h1v1h-1zM308 216h1v1h-1zM317 216h1v1h-1zM328 216h1v1h-1zM331 216h1v1h-1zM341 216h1v1h-1zM347 216h1v1h-1zM352 216h1v1h-1zM37 217h4v1h-4zM42 217h1v1h-1zM62 217h1v1h-1zM83 217h1v1h-1zM96 217h1v1h-1zM161 217h1v1h-1zM163 217h1v1h-1zM173 217h1v1h-1zM175 217h1v1h-1zM180 217h1v1h-1zM187 217h1v1h-1zM190 217h1v1h-1zM194 217h2v1h-2zM231 217h1v1h-1zM324 217h1v1h-1zM328 217h1v1h-1zM348 217h1v1h-1zM352 217h1v1h-1zM354 217h1v1h-1zM455 217h1v1h-1zM462 217h1v1h-1zM468 217h1v1h-1zM38 218h1v1h-1zM89 218h1v1h-1zM189 218h2v1h-2zM202 218h1v1h-1zM211 218h1v1h-1zM309 218h2v1h-2zM312 218h1v1h-1zM320 218h1v1h-1zM327 218h2v1h-2zM343 218h1v1h-1zM350 218h1v1h-1zM353 218h1v1h-1zM455 218h1v1h-1zM457 218h1v1h-1zM459 218h2v1h-2zM468 218h1v1h-1zM82 219h1v1h-1zM168 219h1v1h-1zM189 219h1v1h-1zM194 219h1v1h-1zM201 219h1v1h-1zM209 219h1v1h-1zM311 219h1v1h-1zM315 219h2v1h-2zM319 219h1v1h-1zM322 219h1v1h-1zM334 219h1v1h-1zM350 219h2v1h-2zM439 219h1v1h-1zM452 219h1v1h-1zM37 220h1v1h-1zM90 220h1v1h-1zM99 220h1v1h-1zM167 220h1v1h-1zM195 220h1v1h-1zM197 220h1v1h-1zM199 220h1v1h-1zM203 220h1v1h-1zM208 220h1v1h-1zM319 220h1v1h-1zM323 220h1v1h-1zM337 220h1v1h-1zM347 220h2v1h-2zM350 220h1v1h-1zM451 220h1v1h-1zM456 220h1v1h-1zM460 220h1v1h-1zM464 220h1v1h-1zM90 221h2v1h-2zM94 221h1v1h-1zM177 221h1v1h-1zM186 221h2v1h-2zM198 221h1v1h-1zM208 221h1v1h-1zM211 221h1v1h-1zM225 221h1v1h-1zM339 221h1v1h-1zM344 221h1v1h-1zM346 221h1v1h-1zM457 221h2v1h-2zM464 221h1v1h-1zM57 222h1v1h-1zM91 222h1v1h-1zM93 222h2v1h-2zM96 222h1v1h-1zM190 222h1v1h-1zM194 222h1v1h-1zM198 222h1v1h-1zM205 222h1v1h-1zM208 222h1v1h-1zM343 222h1v1h-1zM448 222h1v1h-1zM450 222h2v1h-2zM461 222h1v1h-1zM463 222h1v1h-1zM97 223h1v1h-1zM159 223h1v1h-1zM179 223h1v1h-1zM191 223h1v1h-1zM206 223h1v1h-1zM213 223h1v1h-1zM318 223h1v1h-1zM326 223h1v1h-1zM343 223h1v1h-1zM346 223h1v1h-1zM362 223h1v1h-1zM451 223h1v1h-1zM453 223h2v1h-2zM456 223h1v1h-1zM458 223h1v1h-1zM462 223h1v1h-1zM36 224h1v1h-1zM92 224h1v1h-1zM96 224h1v1h-1zM159 224h1v1h-1zM172 224h1v1h-1zM181 224h1v1h-1zM218 224h1v1h-1zM317 224h1v1h-1zM437 224h1v1h-1zM446 224h1v1h-1zM455 224h1v1h-1zM95 225h1v1h-1zM209 225h1v1h-1zM212 225h1v1h-1zM227 225h1v1h-1zM232 225h1v1h-1zM310 225h1v1h-1zM312 225h1v1h-1zM314 225h1v1h-1zM316 225h2v1h-2zM343 225h1v1h-1zM350 225h1v1h-1zM438 225h2v1h-2zM452 225h1v1h-1zM455 225h1v1h-1zM465 225h1v1h-1zM57 226h1v1h-1zM92 226h1v1h-1zM179 226h1v1h-1zM185 226h1v1h-1zM211 226h1v1h-1zM223 226h1v1h-1zM226 226h1v1h-1zM308 226h1v1h-1zM312 226h1v1h-1zM314 226h1v1h-1zM339 226h1v1h-1zM343 226h2v1h-2zM346 226h2v1h-2zM437 226h1v1h-1zM440 226h1v1h-1zM446 226h1v1h-1zM457 226h1v1h-1zM459 226h1v1h-1zM93 227h2v1h-2zM206 227h2v1h-2zM219 227h1v1h-1zM306 227h2v1h-2zM320 227h1v1h-1zM323 227h1v1h-1zM326 227h1v1h-1zM344 227h1v1h-1zM432 227h1v1h-1zM437 227h1v1h-1zM439 227h1v1h-1zM442 227h2v1h-2zM450 227h1v1h-1zM39 228h1v1h-1zM44 228h1v1h-1zM183 228h1v1h-1zM211 228h1v1h-1zM214 228h1v1h-1zM218 228h2v1h-2zM238 228h1v1h-1zM305 228h1v1h-1zM337 228h1v1h-1zM340 228h1v1h-1zM345 228h1v1h-1zM430 228h1v1h-1zM433 228h1v1h-1zM438 228h2v1h-2zM441 228h1v1h-1zM444 228h2v1h-2zM456 228h3v1h-3zM460 228h1v1h-1zM37 229h1v1h-1zM39 229h2v1h-2zM43 229h2v1h-2zM46 229h1v1h-1zM48 229h1v1h-1zM58 229h1v1h-1zM94 229h2v1h-2zM160 229h1v1h-1zM162 229h2v1h-2zM178 229h2v1h-2zM213 229h1v1h-1zM311 229h1v1h-1zM343 229h1v1h-1zM430 229h1v1h-1zM433 229h1v1h-1zM435 229h2v1h-2zM438 229h2v1h-2zM442 229h4v1h-4zM456 229h1v1h-1zM42 230h1v1h-1zM44 230h1v1h-1zM50 230h1v1h-1zM54 230h1v1h-1zM60 230h1v1h-1zM62 230h1v1h-1zM65 230h1v1h-1zM67 230h1v1h-1zM93 230h1v1h-1zM99 230h1v1h-1zM163 230h1v1h-1zM170 230h1v1h-1zM172 230h1v1h-1zM175 230h2v1h-2zM183 230h1v1h-1zM185 230h1v1h-1zM208 230h1v1h-1zM216 230h1v1h-1zM332 230h1v1h-1zM434 230h1v1h-1zM441 230h2v1h-2zM444 230h1v1h-1zM448 230h1v1h-1zM456 230h1v1h-1zM43 231h1v1h-1zM45 231h1v1h-1zM55 231h1v1h-1zM57 231h1v1h-1zM63 231h1v1h-1zM66 231h2v1h-2zM69 231h1v1h-1zM89 231h1v1h-1zM162 231h1v1h-1zM164 231h2v1h-2zM177 231h2v1h-2zM184 231h1v1h-1zM187 231h4v1h-4zM209 231h1v1h-1zM214 231h1v1h-1zM216 231h1v1h-1zM218 231h1v1h-1zM340 231h1v1h-1zM342 231h1v1h-1zM367 231h1v1h-1zM434 231h1v1h-1zM444 231h1v1h-1zM457 231h1v1h-1zM49 232h1v1h-1zM55 232h1v1h-1zM59 232h1v1h-1zM64 232h1v1h-1zM68 232h1v1h-1zM79 232h2v1h-2zM83 232h1v1h-1zM87 232h1v1h-1zM162 232h1v1h-1zM165 232h1v1h-1zM170 232h2v1h-2zM179 232h1v1h-1zM184 232h1v1h-1zM188 232h1v1h-1zM198 232h1v1h-1zM201 232h1v1h-1zM213 232h1v1h-1zM219 232h1v1h-1zM305 232h1v1h-1zM309 232h1v1h-1zM429 232h1v1h-1zM433 232h1v1h-1zM442 232h1v1h-1zM448 232h1v1h-1zM450 232h1v1h-1zM455 232h2v1h-2zM40 233h1v1h-1zM48 233h2v1h-2zM51 233h1v1h-1zM55 233h1v1h-1zM61 233h1v1h-1zM70 233h1v1h-1zM76 233h3v1h-3zM85 233h1v1h-1zM160 233h1v1h-1zM162 233h1v1h-1zM164 233h1v1h-1zM185 233h1v1h-1zM196 233h1v1h-1zM198 233h3v1h-3zM203 233h1v1h-1zM207 233h1v1h-1zM211 233h1v1h-1zM220 233h1v1h-1zM305 233h3v1h-3zM310 233h1v1h-1zM325 233h1v1h-1zM447 233h1v1h-1zM451 233h1v1h-1zM455 233h1v1h-1zM457 233h2v1h-2zM460 233h1v1h-1zM463 233h1v1h-1zM41 234h2v1h-2zM47 234h3v1h-3zM52 234h1v1h-1zM67 234h1v1h-1zM92 234h1v1h-1zM94 234h1v1h-1zM184 234h1v1h-1zM186 234h1v1h-1zM306 234h1v1h-1zM337 234h1v1h-1zM433 234h1v1h-1zM437 234h1v1h-1zM442 234h1v1h-1zM449 234h2v1h-2zM460 234h1v1h-1zM47 235h1v1h-1zM52 235h1v1h-1zM60 235h1v1h-1zM67 235h1v1h-1zM72 235h1v1h-1zM80 235h1v1h-1zM83 235h1v1h-1zM88 235h1v1h-1zM93 235h3v1h-3zM184 235h1v1h-1zM217 235h2v1h-2zM429 235h1v1h-1zM431 235h2v1h-2zM436 235h1v1h-1zM440 235h1v1h-1zM448 235h1v1h-1zM453 235h1v1h-1zM38 236h1v1h-1zM55 236h1v1h-1zM66 236h1v1h-1zM72 236h1v1h-1zM78 236h2v1h-2zM82 236h1v1h-1zM84 236h2v1h-2zM92 236h2v1h-2zM97 236h1v1h-1zM208 236h1v1h-1zM217 236h1v1h-1zM355 236h1v1h-1zM429 236h1v1h-1zM431 236h1v1h-1zM438 236h1v1h-1zM440 236h1v1h-1zM442 236h1v1h-1zM460 236h1v1h-1zM466 236h2v1h-2zM38 237h1v1h-1zM41 237h1v1h-1zM50 237h1v1h-1zM59 237h1v1h-1zM68 237h1v1h-1zM70 237h1v1h-1zM72 237h1v1h-1zM74 237h2v1h-2zM85 237h2v1h-2zM93 237h1v1h-1zM431 237h1v1h-1zM435 237h2v1h-2zM444 237h1v1h-1zM462 237h1v1h-1zM69 238h2v1h-2zM72 238h3v1h-3zM78 238h1v1h-1zM81 238h1v1h-1zM85 238h1v1h-1zM87 238h1v1h-1zM90 238h2v1h-2zM184 238h1v1h-1zM320 238h1v1h-1zM348 238h1v1h-1zM430 238h1v1h-1zM434 238h2v1h-2zM455 238h2v1h-2zM464 238h1v1h-1zM68 239h1v1h-1zM74 239h1v1h-1zM85 239h1v1h-1zM90 239h1v1h-1zM214 239h1v1h-1zM305 239h1v1h-1zM315 239h1v1h-1zM338 239h1v1h-1zM359 239h1v1h-1zM430 239h1v1h-1zM440 239h1v1h-1zM448 239h2v1h-2zM460 239h1v1h-1zM463 239h1v1h-1zM67 240h1v1h-1zM77 240h1v1h-1zM81 240h1v1h-1zM84 240h1v1h-1zM92 240h2v1h-2zM200 240h1v1h-1zM216 240h1v1h-1zM313 240h1v1h-1zM346 240h1v1h-1zM428 240h1v1h-1zM430 240h1v1h-1zM450 240h1v1h-1zM456 240h1v1h-1zM160 241h1v1h-1zM208 241h1v1h-1zM323 241h1v1h-1zM337 241h1v1h-1zM341 241h1v1h-1zM435 241h1v1h-1zM445 241h1v1h-1zM460 241h1v1h-1zM464 241h2v1h-2zM307 242h1v1h-1zM328 242h1v1h-1zM340 242h1v1h-1zM428 242h1v1h-1zM439 242h2v1h-2zM444 242h1v1h-1zM451 242h1v1h-1zM455 242h2v1h-2zM458 242h2v1h-2zM464 242h2v1h-2zM471 242h1v1h-1zM307 243h2v1h-2zM337 243h1v1h-1zM428 243h1v1h-1zM437 243h1v1h-1zM476 243h1v1h-1zM164 244h2v1h-2zM172 244h1v1h-1zM178 244h1v1h-1zM185 244h1v1h-1zM206 244h1v1h-1zM230 244h1v1h-1zM317 244h2v1h-2zM324 244h1v1h-1zM359 244h1v1h-1zM429 244h3v1h-3zM456 244h1v1h-1zM465 244h1v1h-1zM469 244h1v1h-1zM477 244h1v1h-1zM63 245h1v1h-1zM82 245h2v1h-2zM94 245h1v1h-1zM160 245h1v1h-1zM214 245h1v1h-1zM216 245h1v1h-1zM308 245h1v1h-1zM315 245h1v1h-1zM317 245h1v1h-1zM325 245h1v1h-1zM331 245h1v1h-1zM342 245h1v1h-1zM428 245h1v1h-1zM459 245h1v1h-1zM477 245h2v1h-2zM71 246h2v1h-2zM94 246h1v1h-1zM166 246h1v1h-1zM184 246h1v1h-1zM209 246h2v1h-2zM308 246h1v1h-1zM310 246h4v1h-4zM316 246h1v1h-1zM318 246h1v1h-1zM436 246h1v1h-1zM441 246h1v1h-1zM445 246h1v1h-1zM472 246h1v1h-1zM60 247h1v1h-1zM86 247h1v1h-1zM89 247h2v1h-2zM191 247h1v1h-1zM214 247h2v1h-2zM218 247h1v1h-1zM305 247h1v1h-1zM313 247h2v1h-2zM319 247h1v1h-1zM321 247h1v1h-1zM332 247h1v1h-1zM336 247h1v1h-1zM338 247h1v1h-1zM443 247h1v1h-1zM458 247h1v1h-1zM468 247h1v1h-1zM476 247h1v1h-1zM74 248h2v1h-2zM167 248h1v1h-1zM172 248h1v1h-1zM202 248h2v1h-2zM214 248h1v1h-1zM222 248h1v1h-1zM319 248h1v1h-1zM341 248h1v1h-1zM357 248h1v1h-1zM432 248h1v1h-1zM457 248h1v1h-1zM459 248h2v1h-2zM65 249h1v1h-1zM78 249h1v1h-1zM89 249h1v1h-1zM165 249h1v1h-1zM171 249h1v1h-1zM180 249h1v1h-1zM212 249h1v1h-1zM227 249h1v1h-1zM305 249h1v1h-1zM314 249h1v1h-1zM318 249h2v1h-2zM338 249h1v1h-1zM343 249h1v1h-1zM430 249h1v1h-1zM432 249h1v1h-1zM435 249h1v1h-1zM437 249h1v1h-1zM452 249h2v1h-2zM456 249h1v1h-1zM458 249h1v1h-1zM460 249h2v1h-2zM463 249h1v1h-1zM76 250h1v1h-1zM92 250h1v1h-1zM202 250h1v1h-1zM219 250h1v1h-1zM221 250h2v1h-2zM312 250h1v1h-1zM315 250h1v1h-1zM317 250h3v1h-3zM323 250h1v1h-1zM335 250h1v1h-1zM448 250h1v1h-1zM455 250h1v1h-1zM478 250h1v1h-1zM58 251h1v1h-1zM219 251h1v1h-1zM228 251h1v1h-1zM307 251h1v1h-1zM314 251h2v1h-2zM325 251h1v1h-1zM341 251h1v1h-1zM434 251h1v1h-1zM461 251h1v1h-1zM463 251h1v1h-1zM57 252h1v1h-1zM62 252h1v1h-1zM65 252h1v1h-1zM71 252h1v1h-1zM79 252h1v1h-1zM96 252h1v1h-1zM309 252h1v1h-1zM316 252h1v1h-1zM319 252h1v1h-1zM428 252h1v1h-1zM430 252h2v1h-2zM434 252h1v1h-1zM447 252h1v1h-1zM454 252h1v1h-1zM458 252h1v1h-1zM461 252h1v1h-1zM81 253h1v1h-1zM311 253h1v1h-1zM315 253h1v1h-1zM318 253h2v1h-2zM322 253h1v1h-1zM338 253h1v1h-1zM432 253h1v1h-1zM443 253h1v1h-1zM451 253h1v1h-1zM460 253h1v1h-1zM474 253h1v1h-1zM83 254h1v1h-1zM88 254h1v1h-1zM175 254h1v1h-1zM199 254h1v1h-1zM313 254h3v1h-3zM317 254h1v1h-1zM319 254h1v1h-1zM321 254h1v1h-1zM343 254h2v1h-2zM452 254h2v1h-2zM74 255h1v1h-1zM79 255h1v1h-1zM88 255h1v1h-1zM173 255h1v1h-1zM180 255h1v1h-1zM203 255h1v1h-1zM310 255h1v1h-1zM313 255h1v1h-1zM318 255h2v1h-2zM339 255h1v1h-1zM343 255h1v1h-1zM350 255h1v1h-1zM429 255h1v1h-1zM438 255h1v1h-1zM440 255h1v1h-1zM442 255h2v1h-2zM469 255h1v1h-1zM57 256h2v1h-2zM71 256h1v1h-1zM163 256h1v1h-1zM307 256h1v1h-1zM309 256h1v1h-1zM324 256h1v1h-1zM326 256h1v1h-1zM337 256h1v1h-1zM430 256h1v1h-1zM436 256h1v1h-1zM439 256h2v1h-2zM468 256h1v1h-1zM85 257h1v1h-1zM163 257h1v1h-1zM185 257h1v1h-1zM201 257h1v1h-1zM206 257h1v1h-1zM306 257h1v1h-1zM309 257h1v1h-1zM311 257h1v1h-1zM313 257h1v1h-1zM319 257h1v1h-1zM337 257h2v1h-2zM430 257h1v1h-1zM432 257h3v1h-3zM452 257h1v1h-1zM469 257h1v1h-1zM65 258h1v1h-1zM305 258h2v1h-2zM316 258h1v1h-1zM319 258h3v1h-3zM329 258h1v1h-1zM434 258h1v1h-1zM60 259h1v1h-1zM64 259h1v1h-1zM71 259h1v1h-1zM73 259h1v1h-1zM433 259h1v1h-1zM437 259h4v1h-4zM443 259h1v1h-1zM445 259h1v1h-1zM447 259h1v1h-1z"/>
<path fill="#3c3c3c" d="M438 47h1v1h-1zM462 49h1v1h-1zM61 51h1v1h-1zM83 53h1v1h-1zM315 53h1v1h-1zM60 54h1v1h-1zM66 54h1v1h-1zM81 54h1v1h-1zM97 54h2v1h-2zM102 54h1v1h-1zM105 54h1v1h-1zM223 54h2v1h-2zM47 55h1v1h-1zM50 55h1v1h-1zM57 55h1v1h-1zM61 55h2v1h-2zM72 55h1v1h-1zM76 55h1v1h-1zM86 55h1v1h-1zM92 55h1v1h-1zM94 55h1v1h-1zM101 55h1v1h-1zM43 56h1v1h-1zM67 56h1v1h-1zM100 56h1v1h-1zM89 57h1v1h-1zM97 57h1v1h-1zM102 57h1v1h-1zM169 57h1v1h-1zM177 57h1v1h-1zM205 57h1v1h-1zM357 57h1v1h-1zM42 58h1v1h-1zM169 58h1v1h-1zM180 58h1v1h-1zM207 58h1v1h-1zM211 58h1v1h-1zM224 58h1v1h-1zM40 59h2v1h-2zM48 59h1v1h-1zM162 59h1v1h-1zM173 59h1v1h-1zM186 59h1v1h-1zM188 59h1v1h-1zM212 59h1v1h-1zM345 59h1v1h-1zM372 59h1v1h-1zM42 60h1v1h-1zM56 60h1v1h-1zM62 60h2v1h-2zM87 60h2v1h-2zM107 60h1v1h-1zM164 60h1v1h-1zM170 60h1v1h-1zM175 60h1v1h-1zM177 60h1v1h-1zM179 60h1v1h-1zM187 60h1v1h-1zM205 60h1v1h-1zM217 60h1v1h-1zM220 60h1v1h-1zM336 60h1v1h-1zM338 60h1v1h-1zM345 60h1v1h-1zM64 61h1v1h-1zM68 61h1v1h-1zM71 61h1v1h-1zM81 61h1v1h-1zM103 61h1v1h-1zM171 61h1v1h-1zM176 61h1v1h-1zM180 61h1v1h-1zM198 61h1v1h-1zM203 61h1v1h-1zM206 61h2v1h-2zM221 61h2v1h-2zM224 61h1v1h-1zM340 61h1v1h-1zM354 61h1v1h-1zM366 61h1v1h-1zM63 62h2v1h-2zM176 62h1v1h-1zM191 62h1v1h-1zM235 62h1v1h-1zM340 62h1v1h-1zM353 62h1v1h-1zM359 62h1v1h-1zM364 62h1v1h-1zM100 63h1v1h-1zM160 63h1v1h-1zM167 63h1v1h-1zM173 63h1v1h-1zM178 63h1v1h-1zM180 63h2v1h-2zM189 63h1v1h-1zM191 63h1v1h-1zM193 63h1v1h-1zM330 63h1v1h-1zM335 63h1v1h-1zM350 63h1v1h-1zM367 63h2v1h-2zM160 64h1v1h-1zM169 64h2v1h-2zM191 64h1v1h-1zM195 64h1v1h-1zM350 64h1v1h-1zM365 64h1v1h-1zM35 65h1v1h-1zM37 65h1v1h-1zM41 65h1v1h-1zM47 65h1v1h-1zM60 65h1v1h-1zM62 65h1v1h-1zM169 65h1v1h-1zM173 65h1v1h-1zM184 65h1v1h-1zM199 65h1v1h-1zM205 65h1v1h-1zM225 65h1v1h-1zM335 65h3v1h-3zM348 65h1v1h-1zM352 65h1v1h-1zM455 65h1v1h-1zM43 66h1v1h-1zM46 66h1v1h-1zM66 66h1v1h-1zM103 66h2v1h-2zM159 66h1v1h-1zM167 66h1v1h-1zM217 66h1v1h-1zM336 66h1v1h-1zM344 66h3v1h-3zM355 66h1v1h-1zM358 66h1v1h-1zM366 66h1v1h-1zM375 66h1v1h-1zM37 67h1v1h-1zM40 67h1v1h-1zM44 67h1v1h-1zM59 67h1v1h-1zM107 67h1v1h-1zM159 67h1v1h-1zM169 67h1v1h-1zM178 67h1v1h-1zM184 67h1v1h-1zM192 67h1v1h-1zM198 67h1v1h-1zM329 67h1v1h-1zM333 67h1v1h-1zM340 67h1v1h-1zM342 67h1v1h-1zM344 67h1v1h-1zM347 67h1v1h-1zM454 67h1v1h-1zM482 67h1v1h-1zM40 68h2v1h-2zM44 68h1v1h-1zM47 68h1v1h-1zM53 68h1v1h-1zM106 68h1v1h-1zM167 68h2v1h-2zM185 68h1v1h-1zM222 68h1v1h-1zM337 68h1v1h-1zM343 68h1v1h-1zM363 68h1v1h-1zM367 68h2v1h-2zM465 68h1v1h-1zM41 69h1v1h-1zM43 69h2v1h-2zM50 69h1v1h-1zM69 69h1v1h-1zM175 69h1v1h-1zM200 69h1v1h-1zM206 69h1v1h-1zM212 69h1v1h-1zM223 69h1v1h-1zM227 69h1v1h-1zM366 69h2v1h-2zM373 69h1v1h-1zM463 69h1v1h-1zM38 70h1v1h-1zM49 70h1v1h-1zM54 70h1v1h-1zM61 70h1v1h-1zM64 70h1v1h-1zM66 70h1v1h-1zM69 70h1v1h-1zM72 70h1v1h-1zM76 70h1v1h-1zM80 70h1v1h-1zM102 70h1v1h-1zM185 70h1v1h-1zM206 70h1v1h-1zM209 70h1v1h-1zM335 70h1v1h-1zM347 70h1v1h-1zM372 70h1v1h-1zM49 71h1v1h-1zM56 71h1v1h-1zM62 71h1v1h-1zM73 71h1v1h-1zM79 71h1v1h-1zM184 71h2v1h-2zM202 71h1v1h-1zM324 71h1v1h-1zM336 71h1v1h-1zM349 71h1v1h-1zM372 71h3v1h-3zM450 71h1v1h-1zM452 71h1v1h-1zM482 71h1v1h-1zM63 72h1v1h-1zM73 72h1v1h-1zM80 72h1v1h-1zM212 72h1v1h-1zM335 72h1v1h-1zM338 72h1v1h-1zM369 72h1v1h-1zM371 72h1v1h-1zM373 72h1v1h-1zM375 72h1v1h-1zM440 72h1v1h-1zM448 72h1v1h-1zM454 72h1v1h-1zM462 72h1v1h-1zM480 72h1v1h-1zM49 73h1v1h-1zM61 73h1v1h-1zM63 73h1v1h-1zM65 73h1v1h-1zM94 73h1v1h-1zM105 73h2v1h-2zM335 73h1v1h-1zM371 73h1v1h-1zM436 73h1v1h-1zM438 73h1v1h-1zM442 73h1v1h-1zM455 73h1v1h-1zM470 73h1v1h-1zM479 73h1v1h-1zM56 74h1v1h-1zM76 74h1v1h-1zM94 74h1v1h-1zM338 74h1v1h-1zM357 74h1v1h-1zM369 74h1v1h-1zM439 74h1v1h-1zM454 74h1v1h-1zM465 74h1v1h-1zM471 74h1v1h-1zM475 74h1v1h-1zM72 75h1v1h-1zM188 75h1v1h-1zM324 75h1v1h-1zM328 75h1v1h-1zM336 75h1v1h-1zM364 75h1v1h-1zM434 75h1v1h-1zM436 75h1v1h-1zM440 75h1v1h-1zM456 75h1v1h-1zM470 75h2v1h-2zM41 76h1v1h-1zM52 76h1v1h-1zM315 76h1v1h-1zM360 76h1v1h-1zM365 76h1v1h-1zM436 76h1v1h-1zM471 76h1v1h-1zM474 76h2v1h-2zM484 76h2v1h-2zM487 76h1v1h-1zM102 77h1v1h-1zM316 77h1v1h-1zM328 77h1v1h-1zM436 77h1v1h-1zM439 77h1v1h-1zM454 77h1v1h-1zM456 77h1v1h-1zM473 77h1v1h-1zM489 77h1v1h-1zM341 78h1v1h-1zM468 78h1v1h-1zM473 78h1v1h-1zM478 78h1v1h-1zM47 79h1v1h-1zM341 79h1v1h-1zM359 79h1v1h-1zM368 79h1v1h-1zM375 79h1v1h-1zM443 79h1v1h-1zM473 79h1v1h-1zM484 79h1v1h-1zM339 80h1v1h-1zM345 80h1v1h-1zM348 80h1v1h-1zM350 80h1v1h-1zM368 80h1v1h-1zM454 80h1v1h-1zM469 80h2v1h-2zM477 80h1v1h-1zM484 80h1v1h-1zM347 81h1v1h-1zM358 81h1v1h-1zM367 81h1v1h-1zM449 81h1v1h-1zM454 81h1v1h-1zM456 81h1v1h-1zM465 81h1v1h-1zM476 81h1v1h-1zM322 82h1v1h-1zM330 82h1v1h-1zM343 82h1v1h-1zM347 82h1v1h-1zM363 82h1v1h-1zM438 82h1v1h-1zM450 82h1v1h-1zM452 82h1v1h-1zM467 82h1v1h-1zM333 83h1v1h-1zM335 83h1v1h-1zM337 83h1v1h-1zM343 83h1v1h-1zM348 83h1v1h-1zM353 83h1v1h-1zM359 83h1v1h-1zM471 83h1v1h-1zM65 84h1v1h-1zM335 84h1v1h-1zM339 84h1v1h-1zM358 84h1v1h-1zM442 84h2v1h-2zM472 84h1v1h-1zM490 84h1v1h-1zM170 85h1v1h-1zM174 85h2v1h-2zM324 85h1v1h-1zM332 85h2v1h-2zM339 85h1v1h-1zM346 85h1v1h-1zM355 85h1v1h-1zM365 85h1v1h-1zM377 85h1v1h-1zM444 85h1v1h-1zM452 85h1v1h-1zM471 85h1v1h-1zM476 85h1v1h-1zM487 85h1v1h-1zM329 86h1v1h-1zM377 86h1v1h-1zM451 86h2v1h-2zM476 86h1v1h-1zM365 87h1v1h-1zM441 87h1v1h-1zM443 87h1v1h-1zM454 87h1v1h-1zM313 88h2v1h-2zM344 88h1v1h-1zM358 88h1v1h-1zM361 88h1v1h-1zM441 88h1v1h-1zM450 88h2v1h-2zM461 88h1v1h-1zM469 88h1v1h-1zM179 89h1v1h-1zM326 89h1v1h-1zM341 89h1v1h-1zM344 89h1v1h-1zM355 89h1v1h-1zM447 89h1v1h-1zM449 89h1v1h-1zM453 89h1v1h-1zM75 90h1v1h-1zM98 90h1v1h-1zM316 90h1v1h-1zM325 90h1v1h-1zM347 90h1v1h-1zM349 90h1v1h-1zM361 90h1v1h-1zM434 90h3v1h-3zM444 90h1v1h-1zM447 90h1v1h-1zM459 90h1v1h-1zM193 91h1v1h-1zM318 91h1v1h-1zM329 91h1v1h-1zM444 91h1v1h-1zM175 92h1v1h-1zM203 92h1v1h-1zM317 92h1v1h-1zM327 92h2v1h-2zM435 92h1v1h-1zM475 92h1v1h-1zM57 93h1v1h-1zM67 93h1v1h-1zM446 93h1v1h-1zM45 94h1v1h-1zM205 94h1v1h-1zM324 94h2v1h-2zM451 94h1v1h-1zM168 96h1v1h-1zM446 96h1v1h-1zM477 206h1v1h-1zM316 207h1v1h-1zM348 207h4v1h-4zM356 207h1v1h-1zM322 208h2v1h-2zM348 208h1v1h-1zM313 209h1v1h-1zM320 209h1v1h-1zM345 209h2v1h-2zM311 210h1v1h-1zM468 210h1v1h-1zM330 211h1v1h-1zM308 212h1v1h-1zM341 212h1v1h-1zM343 212h1v1h-1zM352 212h1v1h-1zM463 212h1v1h-1zM340 213h1v1h-1zM352 213h2v1h-2zM326 214h1v1h-1zM335 214h1v1h-1zM337 214h1v1h-1zM352 214h1v1h-1zM434 214h1v1h-1zM462 214h1v1h-1zM464 214h1v1h-1zM470 214h1v1h-1zM49 215h1v1h-1zM56 215h1v1h-1zM59 215h2v1h-2zM63 215h1v1h-1zM70 215h1v1h-1zM75 215h2v1h-2zM78 215h1v1h-1zM166 215h1v1h-1zM222 215h1v1h-1zM308 215h1v1h-1zM334 215h2v1h-2zM463 215h1v1h-1zM51 216h3v1h-3zM59 216h3v1h-3zM172 216h1v1h-1zM353 216h1v1h-1zM453 216h1v1h-1zM460 216h2v1h-2zM465 216h1v1h-1zM469 216h1v1h-1zM41 217h1v1h-1zM47 217h1v1h-1zM61 217h1v1h-1zM76 217h2v1h-2zM82 217h1v1h-1zM87 217h1v1h-1zM92 217h2v1h-2zM164 217h1v1h-1zM167 217h1v1h-1zM177 217h1v1h-1zM191 217h1v1h-1zM196 217h1v1h-1zM313 217h1v1h-1zM326 217h1v1h-1zM329 217h2v1h-2zM347 217h1v1h-1zM457 217h1v1h-1zM460 217h1v1h-1zM469 217h1v1h-1zM40 218h1v1h-1zM84 218h1v1h-1zM86 218h2v1h-2zM162 218h2v1h-2zM165 218h2v1h-2zM171 218h1v1h-1zM181 218h1v1h-1zM308 218h1v1h-1zM339 218h1v1h-1zM342 218h1v1h-1zM347 218h1v1h-1zM351 218h1v1h-1zM438 218h1v1h-1zM454 218h1v1h-1zM458 218h1v1h-1zM49 219h1v1h-1zM79 219h1v1h-1zM88 219h1v1h-1zM174 219h1v1h-1zM190 219h1v1h-1zM310 219h1v1h-1zM327 219h1v1h-1zM347 219h1v1h-1zM367 219h1v1h-1zM454 219h1v1h-1zM456 219h1v1h-1zM465 219h1v1h-1zM467 219h1v1h-1zM38 220h1v1h-1zM92 220h1v1h-1zM186 220h1v1h-1zM194 220h1v1h-1zM196 220h1v1h-1zM202 220h1v1h-1zM309 220h1v1h-1zM311 220h2v1h-2zM324 220h2v1h-2zM453 220h1v1h-1zM455 220h1v1h-1zM465 220h3v1h-3zM45 221h1v1h-1zM92 221h1v1h-1zM164 221h2v1h-2zM185 221h1v1h-1zM199 221h2v1h-2zM205 221h1v1h-1zM314 221h1v1h-1zM453 221h1v1h-1zM468 221h1v1h-1zM36 222h1v1h-1zM44 222h1v1h-1zM47 222h1v1h-1zM56 222h1v1h-1zM97 222h1v1h-1zM174 222h1v1h-1zM187 222h1v1h-1zM207 222h1v1h-1zM210 222h1v1h-1zM212 222h1v1h-1zM324 222h1v1h-1zM341 222h1v1h-1zM454 222h2v1h-2zM458 222h1v1h-1zM462 222h1v1h-1zM56 223h1v1h-1zM180 223h1v1h-1zM209 223h1v1h-1zM215 223h3v1h-3zM221 223h1v1h-1zM319 223h1v1h-1zM325 223h1v1h-1zM182 224h1v1h-1zM200 224h1v1h-1zM209 224h3v1h-3zM217 224h1v1h-1zM329 224h1v1h-1zM449 224h1v1h-1zM458 224h1v1h-1zM79 225h1v1h-1zM94 225h1v1h-1zM161 225h1v1h-1zM171 225h1v1h-1zM211 225h1v1h-1zM214 225h1v1h-1zM216 225h1v1h-1zM218 225h1v1h-1zM320 225h1v1h-1zM334 225h1v1h-1zM441 225h1v1h-1zM448 225h2v1h-2zM458 225h1v1h-1zM94 226h1v1h-1zM209 226h1v1h-1zM212 226h1v1h-1zM216 226h1v1h-1zM218 226h1v1h-1zM313 226h1v1h-1zM322 226h1v1h-1zM324 226h1v1h-1zM336 226h1v1h-1zM345 226h1v1h-1zM441 226h2v1h-2zM455 226h1v1h-1zM44 227h2v1h-2zM91 227h2v1h-2zM171 227h1v1h-1zM212 227h2v1h-2zM315 227h1v1h-1zM337 227h1v1h-1zM342 227h1v1h-1zM457 227h1v1h-1zM36 228h1v1h-1zM49 228h2v1h-2zM65 228h1v1h-1zM92 228h1v1h-1zM168 228h1v1h-1zM182 228h1v1h-1zM199 228h1v1h-1zM207 228h3v1h-3zM308 228h1v1h-1zM325 228h1v1h-1zM341 228h1v1h-1zM435 228h1v1h-1zM443 228h1v1h-1zM47 229h1v1h-1zM51 229h1v1h-1zM65 229h2v1h-2zM161 229h1v1h-1zM169 229h1v1h-1zM208 229h1v1h-1zM323 229h1v1h-1zM331 229h2v1h-2zM339 229h1v1h-1zM434 229h1v1h-1zM457 229h2v1h-2zM45 230h1v1h-1zM63 230h2v1h-2zM91 230h1v1h-1zM167 230h1v1h-1zM173 230h1v1h-1zM181 230h1v1h-1zM187 230h1v1h-1zM192 230h1v1h-1zM207 230h1v1h-1zM212 230h1v1h-1zM215 230h1v1h-1zM430 230h1v1h-1zM452 230h2v1h-2zM459 230h1v1h-1zM42 231h1v1h-1zM64 231h1v1h-1zM70 231h1v1h-1zM91 231h1v1h-1zM160 231h1v1h-1zM167 231h1v1h-1zM175 231h1v1h-1zM181 231h2v1h-2zM192 231h1v1h-1zM308 231h2v1h-2zM324 231h1v1h-1zM430 231h1v1h-1zM440 231h1v1h-1zM449 231h2v1h-2zM458 231h1v1h-1zM39 232h1v1h-1zM43 232h1v1h-1zM56 232h1v1h-1zM166 232h1v1h-1zM181 232h1v1h-1zM195 232h1v1h-1zM202 232h1v1h-1zM205 232h1v1h-1zM207 232h1v1h-1zM444 232h3v1h-3zM41 233h1v1h-1zM47 233h1v1h-1zM64 233h1v1h-1zM68 233h1v1h-1zM71 233h2v1h-2zM92 233h2v1h-2zM161 233h1v1h-1zM195 233h1v1h-1zM436 233h2v1h-2zM450 233h1v1h-1zM175 234h1v1h-1zM180 234h1v1h-1zM310 234h1v1h-1zM338 234h2v1h-2zM452 234h2v1h-2zM462 234h1v1h-1zM68 235h1v1h-1zM73 235h1v1h-1zM86 235h1v1h-1zM354 235h1v1h-1zM430 235h1v1h-1zM441 235h2v1h-2zM455 235h1v1h-1zM184 236h1v1h-1zM439 236h1v1h-1zM441 236h1v1h-1zM443 236h1v1h-1zM445 236h1v1h-1zM451 236h2v1h-2zM459 236h1v1h-1zM69 237h1v1h-1zM71 237h1v1h-1zM78 237h1v1h-1zM83 237h1v1h-1zM87 237h1v1h-1zM92 237h1v1h-1zM322 237h1v1h-1zM438 237h1v1h-1zM441 237h2v1h-2zM461 237h1v1h-1zM68 238h1v1h-1zM83 238h1v1h-1zM86 238h1v1h-1zM324 238h1v1h-1zM442 238h1v1h-1zM445 238h2v1h-2zM453 238h1v1h-1zM463 238h1v1h-1zM82 239h2v1h-2zM339 239h1v1h-1zM429 239h1v1h-1zM456 239h1v1h-1zM68 240h1v1h-1zM70 240h1v1h-1zM83 240h1v1h-1zM440 240h1v1h-1zM434 241h1v1h-1zM436 241h1v1h-1zM440 241h1v1h-1zM451 241h1v1h-1zM223 242h1v1h-1zM308 242h1v1h-1zM311 242h1v1h-1zM313 242h1v1h-1zM431 242h1v1h-1zM433 242h1v1h-1zM437 242h1v1h-1zM188 243h1v1h-1zM310 243h1v1h-1zM430 243h2v1h-2zM439 243h1v1h-1zM455 243h1v1h-1zM460 243h1v1h-1zM466 243h1v1h-1zM310 244h1v1h-1zM325 244h1v1h-1zM339 244h1v1h-1zM433 244h1v1h-1zM446 244h1v1h-1zM309 245h2v1h-2zM316 245h1v1h-1zM324 245h1v1h-1zM328 245h1v1h-1zM336 245h1v1h-1zM439 245h1v1h-1zM445 245h1v1h-1zM452 245h1v1h-1zM73 246h1v1h-1zM212 246h1v1h-1zM314 246h1v1h-1zM317 246h1v1h-1zM319 246h1v1h-1zM325 246h1v1h-1zM331 246h2v1h-2zM336 246h1v1h-1zM431 246h2v1h-2zM434 246h2v1h-2zM439 246h1v1h-1zM444 246h1v1h-1zM460 246h2v1h-2zM209 247h1v1h-1zM310 247h1v1h-1zM334 247h2v1h-2zM439 247h1v1h-1zM442 247h1v1h-1zM463 247h2v1h-2zM175 248h1v1h-1zM309 248h1v1h-1zM315 248h1v1h-1zM317 248h1v1h-1zM321 248h1v1h-1zM327 248h1v1h-1zM433 248h1v1h-1zM438 248h1v1h-1zM445 248h1v1h-1zM452 248h3v1h-3zM456 248h1v1h-1zM229 249h1v1h-1zM308 249h1v1h-1zM315 249h1v1h-1zM429 249h1v1h-1zM433 249h1v1h-1zM95 250h1v1h-1zM171 250h1v1h-1zM229 250h1v1h-1zM310 250h1v1h-1zM331 250h1v1h-1zM336 250h1v1h-1zM434 250h1v1h-1zM460 250h1v1h-1zM467 250h1v1h-1zM324 251h1v1h-1zM327 251h1v1h-1zM335 251h2v1h-2zM433 251h1v1h-1zM446 251h1v1h-1zM455 251h1v1h-1zM457 251h2v1h-2zM465 251h1v1h-1zM307 252h2v1h-2zM313 252h3v1h-3zM326 252h1v1h-1zM340 252h1v1h-1zM432 252h2v1h-2zM435 252h1v1h-1zM439 252h1v1h-1zM449 252h1v1h-1zM82 253h2v1h-2zM316 253h2v1h-2zM327 253h1v1h-1zM339 253h1v1h-1zM430 253h1v1h-1zM440 253h1v1h-1zM202 254h1v1h-1zM306 254h1v1h-1zM309 254h1v1h-1zM311 254h1v1h-1zM326 254h1v1h-1zM430 254h1v1h-1zM436 254h1v1h-1zM447 254h1v1h-1zM57 255h1v1h-1zM193 255h1v1h-1zM306 255h1v1h-1zM308 255h1v1h-1zM315 255h1v1h-1zM336 255h1v1h-1zM430 255h1v1h-1zM441 255h1v1h-1zM455 255h1v1h-1zM308 256h1v1h-1zM311 256h1v1h-1zM325 256h1v1h-1zM433 256h1v1h-1zM437 256h1v1h-1zM452 256h2v1h-2zM318 257h1v1h-1zM324 257h1v1h-1zM326 257h1v1h-1zM448 257h1v1h-1zM453 257h1v1h-1zM468 257h1v1h-1zM173 258h1v1h-1zM206 258h1v1h-1zM309 258h1v1h-1zM312 258h2v1h-2zM315 258h1v1h-1zM322 258h1v1h-1zM327 258h1v1h-1zM335 258h1v1h-1zM429 258h1v1h-1zM435 258h1v1h-1zM449 258h2v1h-2zM456 258h1v1h-1zM91 259h1v1h-1zM429 259h1v1h-1zM446 259h1v1h-1zM448 259h1v1h-1zM451 259h3v1h-3z"/>
<path fill="#000" d="M80 51h1v1h-1zM101 53h1v1h-1zM52 54h1v1h-1zM55 54h1v1h-1zM57 54h1v1h-1zM65 54h1v1h-1zM70 54h2v1h-2zM80 54h1v1h-1zM83 54h2v1h-2zM89 54h1v1h-1zM49 55h1v1h-1zM55 55h1v1h-1zM58 55h2v1h-2zM63 55h3v1h-3zM67 55h5v1h-5zM73 55h3v1h-3zM77 55h5v1h-5zM84 55h2v1h-2zM87 55h5v1h-5zM97 55h2v1h-2zM48 56h2v1h-2zM52 56h11v1h-11zM64 56h3v1h-3zM68 56h29v1h-29zM98 56h1v1h-1zM101 56h1v1h-1zM45 57h1v1h-1zM48 57h3v1h-3zM52 57h37v1h-37zM90 57h7v1h-7zM100 57h2v1h-2zM162 57h2v1h-2zM174 57h3v1h-3zM184 57h1v1h-1zM211 57h1v1h-1zM38 58h2v1h-2zM44 58h54v1h-54zM99 58h9v1h-9zM163 58h1v1h-1zM182 58h1v1h-1zM184 58h2v1h-2zM37 59h2v1h-2zM43 59h5v1h-5zM49 59h8v1h-8zM58 59h7v1h-7zM66 59h41v1h-41zM163 59h2v1h-2zM166 59h1v1h-1zM174 59h3v1h-3zM181 59h1v1h-1zM184 59h2v1h-2zM205 59h1v1h-1zM211 59h1v1h-1zM213 59h2v1h-2zM218 59h1v1h-1zM224 59h1v1h-1zM370 59h1v1h-1zM37 60h5v1h-5zM43 60h1v1h-1zM45 60h3v1h-3zM49 60h7v1h-7zM58 60h4v1h-4zM65 60h22v1h-22zM89 60h18v1h-18zM162 60h1v1h-1zM174 60h1v1h-1zM178 60h1v1h-1zM180 60h3v1h-3zM184 60h2v1h-2zM188 60h1v1h-1zM191 60h1v1h-1zM207 60h2v1h-2zM211 60h5v1h-5zM218 60h1v1h-1zM38 61h6v1h-6zM45 61h18v1h-18zM65 61h3v1h-3zM69 61h2v1h-2zM72 61h9v1h-9zM82 61h6v1h-6zM89 61h14v1h-14zM104 61h5v1h-5zM160 61h1v1h-1zM165 61h1v1h-1zM170 61h1v1h-1zM172 61h1v1h-1zM175 61h1v1h-1zM177 61h1v1h-1zM181 61h2v1h-2zM187 61h1v1h-1zM191 61h1v1h-1zM197 61h1v1h-1zM199 61h1v1h-1zM202 61h1v1h-1zM205 61h1v1h-1zM208 61h8v1h-8zM217 61h3v1h-3zM223 61h1v1h-1zM335 61h2v1h-2zM37 62h3v1h-3zM41 62h3v1h-3zM46 62h17v1h-17zM65 62h45v1h-45zM165 62h7v1h-7zM173 62h1v1h-1zM175 62h1v1h-1zM177 62h3v1h-3zM182 62h2v1h-2zM187 62h1v1h-1zM192 62h2v1h-2zM197 62h2v1h-2zM200 62h2v1h-2zM203 62h13v1h-13zM217 62h3v1h-3zM223 62h2v1h-2zM330 62h1v1h-1zM335 62h1v1h-1zM347 62h1v1h-1zM362 62h2v1h-2zM43 63h2v1h-2zM46 63h54v1h-54zM101 63h9v1h-9zM168 63h5v1h-5zM179 63h1v1h-1zM188 63h1v1h-1zM190 63h1v1h-1zM192 63h1v1h-1zM201 63h24v1h-24zM226 63h1v1h-1zM337 63h1v1h-1zM347 63h1v1h-1zM357 63h1v1h-1zM359 63h1v1h-1zM361 63h2v1h-2zM39 64h1v1h-1zM43 64h2v1h-2zM46 64h64v1h-64zM161 64h2v1h-2zM166 64h1v1h-1zM173 64h2v1h-2zM177 64h4v1h-4zM182 64h2v1h-2zM186 64h1v1h-1zM188 64h3v1h-3zM193 64h2v1h-2zM196 64h3v1h-3zM200 64h4v1h-4zM206 64h22v1h-22zM336 64h2v1h-2zM343 64h1v1h-1zM357 64h2v1h-2zM362 64h1v1h-1zM368 64h3v1h-3zM36 65h1v1h-1zM38 65h3v1h-3zM43 65h3v1h-3zM48 65h12v1h-12zM61 65h1v1h-1zM63 65h47v1h-47zM162 65h1v1h-1zM177 65h7v1h-7zM188 65h4v1h-4zM194 65h1v1h-1zM196 65h2v1h-2zM200 65h5v1h-5zM206 65h19v1h-19zM226 65h1v1h-1zM342 65h2v1h-2zM347 65h1v1h-1zM355 65h1v1h-1zM362 65h1v1h-1zM364 65h2v1h-2zM368 65h3v1h-3zM456 65h1v1h-1zM38 66h5v1h-5zM48 66h15v1h-15zM64 66h2v1h-2zM67 66h36v1h-36zM105 66h4v1h-4zM161 66h1v1h-1zM166 66h1v1h-1zM175 66h2v1h-2zM178 66h3v1h-3zM186 66h6v1h-6zM195 66h1v1h-1zM200 66h1v1h-1zM202 66h15v1h-15zM218 66h7v1h-7zM328 66h2v1h-2zM339 66h1v1h-1zM347 66h3v1h-3zM352 66h1v1h-1zM357 66h1v1h-1zM359 66h1v1h-1zM362 66h2v1h-2zM367 66h1v1h-1zM370 66h3v1h-3zM38 67h2v1h-2zM41 67h2v1h-2zM48 67h11v1h-11zM61 67h46v1h-46zM160 67h1v1h-1zM167 67h1v1h-1zM180 67h2v1h-2zM185 67h3v1h-3zM190 67h1v1h-1zM194 67h3v1h-3zM201 67h1v1h-1zM203 67h22v1h-22zM332 67h1v1h-1zM334 67h3v1h-3zM338 67h2v1h-2zM341 67h1v1h-1zM345 67h2v1h-2zM348 67h5v1h-5zM354 67h2v1h-2zM359 67h3v1h-3zM366 67h1v1h-1zM38 68h1v1h-1zM42 68h2v1h-2zM45 68h1v1h-1zM48 68h5v1h-5zM54 68h9v1h-9zM64 68h4v1h-4zM69 68h36v1h-36zM184 68h1v1h-1zM195 68h1v1h-1zM203 68h18v1h-18zM223 68h2v1h-2zM331 68h6v1h-6zM338 68h1v1h-1zM340 68h3v1h-3zM345 68h18v1h-18zM364 68h1v1h-1zM366 68h1v1h-1zM45 69h1v1h-1zM48 69h2v1h-2zM51 69h7v1h-7zM59 69h3v1h-3zM64 69h4v1h-4zM70 69h33v1h-33zM176 69h1v1h-1zM197 69h1v1h-1zM204 69h2v1h-2zM208 69h4v1h-4zM213 69h5v1h-5zM219 69h1v1h-1zM332 69h5v1h-5zM338 69h6v1h-6zM345 69h2v1h-2zM348 69h10v1h-10zM359 69h5v1h-5zM369 69h1v1h-1zM372 69h1v1h-1zM445 69h1v1h-1zM455 69h1v1h-1zM43 70h1v1h-1zM48 70h1v1h-1zM55 70h3v1h-3zM59 70h2v1h-2zM62 70h2v1h-2zM65 70h1v1h-1zM68 70h1v1h-1zM71 70h1v1h-1zM73 70h3v1h-3zM77 70h1v1h-1zM79 70h1v1h-1zM81 70h21v1h-21zM184 70h1v1h-1zM196 70h2v1h-2zM204 70h2v1h-2zM210 70h2v1h-2zM333 70h2v1h-2zM336 70h11v1h-11zM349 70h9v1h-9zM360 70h4v1h-4zM369 70h3v1h-3zM443 70h1v1h-1zM448 70h2v1h-2zM478 70h1v1h-1zM41 71h1v1h-1zM46 71h2v1h-2zM55 71h1v1h-1zM59 71h3v1h-3zM63 71h2v1h-2zM68 71h1v1h-1zM74 71h1v1h-1zM83 71h10v1h-10zM94 71h5v1h-5zM101 71h1v1h-1zM201 71h1v1h-1zM333 71h3v1h-3zM338 71h2v1h-2zM341 71h8v1h-8zM350 71h22v1h-22zM441 71h1v1h-1zM443 71h2v1h-2zM448 71h2v1h-2zM453 71h1v1h-1zM466 71h1v1h-1zM476 71h2v1h-2zM483 71h1v1h-1zM39 72h1v1h-1zM60 72h3v1h-3zM70 72h1v1h-1zM74 72h1v1h-1zM87 72h4v1h-4zM95 72h2v1h-2zM101 72h1v1h-1zM333 72h2v1h-2zM339 72h20v1h-20zM360 72h9v1h-9zM370 72h1v1h-1zM372 72h1v1h-1zM435 72h1v1h-1zM441 72h1v1h-1zM446 72h2v1h-2zM452 72h1v1h-1zM457 72h2v1h-2zM466 72h1v1h-1zM476 72h4v1h-4zM52 73h1v1h-1zM64 73h1v1h-1zM75 73h1v1h-1zM84 73h2v1h-2zM88 73h2v1h-2zM96 73h1v1h-1zM329 73h2v1h-2zM333 73h2v1h-2zM336 73h10v1h-10zM347 73h11v1h-11zM359 73h9v1h-9zM370 73h1v1h-1zM372 73h2v1h-2zM435 73h1v1h-1zM444 73h8v1h-8zM466 73h2v1h-2zM472 73h2v1h-2zM478 73h1v1h-1zM480 73h1v1h-1zM84 74h1v1h-1zM90 74h1v1h-1zM330 74h8v1h-8zM339 74h17v1h-17zM358 74h11v1h-11zM370 74h4v1h-4zM434 74h1v1h-1zM441 74h1v1h-1zM443 74h8v1h-8zM455 74h1v1h-1zM469 74h1v1h-1zM472 74h2v1h-2zM476 74h2v1h-2zM480 74h1v1h-1zM485 74h1v1h-1zM330 75h6v1h-6zM337 75h1v1h-1zM339 75h25v1h-25zM365 75h7v1h-7zM441 75h10v1h-10zM452 75h2v1h-2zM460 75h1v1h-1zM469 75h1v1h-1zM472 75h9v1h-9zM487 75h2v1h-2zM73 76h1v1h-1zM106 76h1v1h-1zM328 76h3v1h-3zM332 76h23v1h-23zM356 76h4v1h-4zM361 76h4v1h-4zM366 76h6v1h-6zM438 76h16v1h-16zM465 76h1v1h-1zM468 76h2v1h-2zM476 76h1v1h-1zM478 76h2v1h-2zM329 77h1v1h-1zM332 77h4v1h-4zM337 77h5v1h-5zM343 77h31v1h-31zM440 77h1v1h-1zM442 77h11v1h-11zM455 77h1v1h-1zM470 77h1v1h-1zM474 77h3v1h-3zM478 77h1v1h-1zM327 78h2v1h-2zM332 78h9v1h-9zM342 78h20v1h-20zM363 78h11v1h-11zM435 78h2v1h-2zM439 78h15v1h-15zM455 78h3v1h-3zM465 78h1v1h-1zM470 78h1v1h-1zM475 78h2v1h-2zM488 78h1v1h-1zM326 79h2v1h-2zM331 79h10v1h-10zM342 79h17v1h-17zM360 79h8v1h-8zM369 79h5v1h-5zM437 79h2v1h-2zM440 79h2v1h-2zM444 79h10v1h-10zM455 79h3v1h-3zM466 79h1v1h-1zM470 79h1v1h-1zM482 79h2v1h-2zM488 79h1v1h-1zM330 80h9v1h-9zM340 80h1v1h-1zM342 80h3v1h-3zM346 80h2v1h-2zM349 80h1v1h-1zM351 80h17v1h-17zM369 80h5v1h-5zM442 80h12v1h-12zM473 80h3v1h-3zM479 80h1v1h-1zM171 81h1v1h-1zM330 81h3v1h-3zM335 81h6v1h-6zM342 81h5v1h-5zM348 81h10v1h-10zM359 81h3v1h-3zM363 81h4v1h-4zM368 81h8v1h-8zM442 81h7v1h-7zM450 81h3v1h-3zM455 81h1v1h-1zM470 81h1v1h-1zM477 81h1v1h-1zM479 81h1v1h-1zM331 82h2v1h-2zM334 82h6v1h-6zM342 82h1v1h-1zM344 82h3v1h-3zM348 82h13v1h-13zM364 82h3v1h-3zM368 82h2v1h-2zM372 82h1v1h-1zM441 82h8v1h-8zM451 82h1v1h-1zM453 82h3v1h-3zM468 82h1v1h-1zM477 82h1v1h-1zM336 83h1v1h-1zM338 83h2v1h-2zM349 83h1v1h-1zM354 83h2v1h-2zM438 83h1v1h-1zM440 83h13v1h-13zM455 83h1v1h-1zM468 83h1v1h-1zM477 83h1v1h-1zM445 84h8v1h-8zM455 84h2v1h-2zM327 85h1v1h-1zM335 85h1v1h-1zM338 85h1v1h-1zM373 85h2v1h-2zM440 85h1v1h-1zM445 85h5v1h-5zM451 85h1v1h-1zM454 85h2v1h-2zM466 85h1v1h-1zM475 85h1v1h-1zM335 86h1v1h-1zM346 86h1v1h-1zM440 86h2v1h-2zM443 86h6v1h-6zM453 86h3v1h-3zM475 86h1v1h-1zM349 87h1v1h-1zM361 87h1v1h-1zM375 87h1v1h-1zM440 87h1v1h-1zM447 87h1v1h-1zM451 87h1v1h-1zM333 88h1v1h-1zM374 88h2v1h-2zM442 88h1v1h-1zM445 88h4v1h-4zM353 89h1v1h-1zM441 89h1v1h-1zM444 89h1v1h-1zM446 89h1v1h-1zM448 89h1v1h-1zM463 89h1v1h-1zM324 90h1v1h-1zM326 90h1v1h-1zM440 90h1v1h-1zM443 90h1v1h-1zM446 90h1v1h-1zM448 90h3v1h-3zM460 90h1v1h-1zM348 91h2v1h-2zM448 91h1v1h-1zM451 93h1v1h-1zM464 94h1v1h-1zM94 96h1v1h-1zM320 204h1v1h-1zM354 206h1v1h-1zM315 207h1v1h-1zM355 207h1v1h-1zM474 207h4v1h-4zM317 208h1v1h-1zM325 208h1v1h-1zM352 208h5v1h-5zM470 208h1v1h-1zM474 208h4v1h-4zM347 209h2v1h-2zM351 209h4v1h-4zM449 209h1v1h-1zM475 209h1v1h-1zM316 210h1v1h-1zM323 210h3v1h-3zM344 210h10v1h-10zM469 210h3v1h-3zM475 210h1v1h-1zM326 211h1v1h-1zM343 211h11v1h-11zM465 211h1v1h-1zM471 211h1v1h-1zM342 212h1v1h-1zM344 212h8v1h-8zM353 212h1v1h-1zM465 212h1v1h-1zM468 212h1v1h-1zM338 213h1v1h-1zM341 213h11v1h-11zM432 213h1v1h-1zM463 213h1v1h-1zM468 213h1v1h-1zM474 213h1v1h-1zM165 214h1v1h-1zM336 214h1v1h-1zM338 214h14v1h-14zM463 214h1v1h-1zM38 215h1v1h-1zM55 215h1v1h-1zM57 215h2v1h-2zM77 215h1v1h-1zM92 215h1v1h-1zM165 215h1v1h-1zM333 215h1v1h-1zM336 215h16v1h-16zM464 215h2v1h-2zM468 215h1v1h-1zM38 216h1v1h-1zM45 216h4v1h-4zM50 216h1v1h-1zM54 216h4v1h-4zM67 216h7v1h-7zM75 216h1v1h-1zM77 216h2v1h-2zM92 216h2v1h-2zM169 216h1v1h-1zM173 216h2v1h-2zM324 216h2v1h-2zM332 216h9v1h-9zM342 216h5v1h-5zM348 216h4v1h-4zM468 216h1v1h-1zM43 217h1v1h-1zM45 217h2v1h-2zM48 217h13v1h-13zM63 217h13v1h-13zM78 217h4v1h-4zM165 217h1v1h-1zM168 217h3v1h-3zM174 217h1v1h-1zM176 217h1v1h-1zM178 217h2v1h-2zM181 217h6v1h-6zM325 217h1v1h-1zM331 217h16v1h-16zM456 217h1v1h-1zM458 217h1v1h-1zM461 217h1v1h-1zM463 217h5v1h-5zM36 218h2v1h-2zM39 218h1v1h-1zM41 218h42v1h-42zM85 218h1v1h-1zM164 218h1v1h-1zM167 218h1v1h-1zM169 218h2v1h-2zM172 218h9v1h-9zM182 218h6v1h-6zM191 218h1v1h-1zM193 218h2v1h-2zM212 218h1v1h-1zM322 218h1v1h-1zM326 218h1v1h-1zM329 218h10v1h-10zM340 218h2v1h-2zM344 218h3v1h-3zM456 218h1v1h-1zM461 218h7v1h-7zM37 219h12v1h-12zM50 219h29v1h-29zM80 219h2v1h-2zM83 219h5v1h-5zM92 219h1v1h-1zM161 219h7v1h-7zM169 219h5v1h-5zM175 219h14v1h-14zM191 219h3v1h-3zM325 219h2v1h-2zM328 219h6v1h-6zM335 219h12v1h-12zM455 219h1v1h-1zM457 219h6v1h-6zM466 219h1v1h-1zM39 220h51v1h-51zM161 220h6v1h-6zM168 220h18v1h-18zM187 220h7v1h-7zM198 220h1v1h-1zM201 220h1v1h-1zM204 220h2v1h-2zM209 220h1v1h-1zM326 220h11v1h-11zM338 220h9v1h-9zM454 220h1v1h-1zM457 220h1v1h-1zM36 221h9v1h-9zM46 221h44v1h-44zM93 221h1v1h-1zM160 221h4v1h-4zM166 221h11v1h-11zM178 221h7v1h-7zM188 221h10v1h-10zM201 221h4v1h-4zM210 221h1v1h-1zM212 221h2v1h-2zM306 221h1v1h-1zM322 221h17v1h-17zM340 221h4v1h-4zM454 221h1v1h-1zM460 221h4v1h-4zM37 222h7v1h-7zM45 222h2v1h-2zM48 222h8v1h-8zM58 222h33v1h-33zM160 222h14v1h-14zM175 222h12v1h-12zM188 222h2v1h-2zM191 222h3v1h-3zM195 222h3v1h-3zM199 222h6v1h-6zM209 222h1v1h-1zM213 222h1v1h-1zM320 222h4v1h-4zM325 222h16v1h-16zM342 222h1v1h-1zM464 222h1v1h-1zM37 223h19v1h-19zM57 223h38v1h-38zM99 223h1v1h-1zM160 223h19v1h-19zM181 223h10v1h-10zM192 223h14v1h-14zM207 223h2v1h-2zM320 223h5v1h-5zM327 223h16v1h-16zM457 223h1v1h-1zM37 224h55v1h-55zM93 224h3v1h-3zM160 224h11v1h-11zM173 224h8v1h-8zM183 224h16v1h-16zM201 224h8v1h-8zM212 224h5v1h-5zM316 224h1v1h-1zM318 224h2v1h-2zM321 224h8v1h-8zM330 224h12v1h-12zM450 224h2v1h-2zM453 224h2v1h-2zM456 224h2v1h-2zM459 224h2v1h-2zM36 225h43v1h-43zM80 225h12v1h-12zM160 225h1v1h-1zM162 225h9v1h-9zM172 225h37v1h-37zM210 225h1v1h-1zM213 225h1v1h-1zM215 225h1v1h-1zM217 225h1v1h-1zM311 225h1v1h-1zM318 225h2v1h-2zM321 225h13v1h-13zM335 225h7v1h-7zM344 225h1v1h-1zM437 225h1v1h-1zM446 225h2v1h-2zM450 225h2v1h-2zM453 225h2v1h-2zM457 225h1v1h-1zM459 225h2v1h-2zM36 226h21v1h-21zM58 226h34v1h-34zM161 226h18v1h-18zM180 226h5v1h-5zM186 226h23v1h-23zM210 226h1v1h-1zM213 226h1v1h-1zM215 226h1v1h-1zM217 226h1v1h-1zM310 226h2v1h-2zM315 226h7v1h-7zM323 226h1v1h-1zM325 226h11v1h-11zM337 226h2v1h-2zM340 226h1v1h-1zM438 226h2v1h-2zM447 226h8v1h-8zM458 226h1v1h-1zM460 226h1v1h-1zM37 227h7v1h-7zM46 227h8v1h-8zM56 227h35v1h-35zM160 227h11v1h-11zM172 227h34v1h-34zM208 227h3v1h-3zM215 227h3v1h-3zM305 227h1v1h-1zM308 227h7v1h-7zM316 227h4v1h-4zM321 227h2v1h-2zM324 227h2v1h-2zM327 227h9v1h-9zM338 227h1v1h-1zM343 227h1v1h-1zM447 227h3v1h-3zM451 227h6v1h-6zM459 227h3v1h-3zM37 228h2v1h-2zM40 228h4v1h-4zM45 228h4v1h-4zM51 228h14v1h-14zM66 228h26v1h-26zM160 228h8v1h-8zM169 228h10v1h-10zM180 228h2v1h-2zM184 228h15v1h-15zM200 228h7v1h-7zM210 228h1v1h-1zM212 228h2v1h-2zM215 228h3v1h-3zM306 228h2v1h-2zM309 228h16v1h-16zM326 228h10v1h-10zM338 228h2v1h-2zM343 228h1v1h-1zM434 228h1v1h-1zM442 228h1v1h-1zM446 228h10v1h-10zM459 228h1v1h-1zM36 229h1v1h-1zM38 229h1v1h-1zM41 229h2v1h-2zM45 229h1v1h-1zM49 229h2v1h-2zM52 229h6v1h-6zM59 229h6v1h-6zM67 229h27v1h-27zM166 229h3v1h-3zM170 229h8v1h-8zM180 229h28v1h-28zM209 229h2v1h-2zM214 229h4v1h-4zM306 229h5v1h-5zM312 229h11v1h-11zM324 229h7v1h-7zM333 229h6v1h-6zM446 229h10v1h-10zM459 229h1v1h-1zM47 230h1v1h-1zM49 230h1v1h-1zM55 230h3v1h-3zM61 230h1v1h-1zM68 230h23v1h-23zM94 230h2v1h-2zM160 230h1v1h-1zM168 230h1v1h-1zM182 230h1v1h-1zM184 230h1v1h-1zM186 230h1v1h-1zM188 230h4v1h-4zM193 230h14v1h-14zM209 230h3v1h-3zM213 230h2v1h-2zM305 230h27v1h-27zM333 230h6v1h-6zM356 230h2v1h-2zM443 230h1v1h-1zM445 230h3v1h-3zM449 230h3v1h-3zM454 230h2v1h-2zM457 230h2v1h-2zM68 231h1v1h-1zM71 231h18v1h-18zM168 231h1v1h-1zM170 231h1v1h-1zM172 231h1v1h-1zM176 231h1v1h-1zM193 231h16v1h-16zM210 231h3v1h-3zM215 231h1v1h-1zM217 231h1v1h-1zM305 231h3v1h-3zM310 231h14v1h-14zM325 231h14v1h-14zM429 231h1v1h-1zM443 231h1v1h-1zM446 231h2v1h-2zM451 231h3v1h-3zM459 231h2v1h-2zM70 232h4v1h-4zM75 232h4v1h-4zM81 232h2v1h-2zM85 232h2v1h-2zM178 232h1v1h-1zM189 232h1v1h-1zM192 232h3v1h-3zM196 232h2v1h-2zM199 232h2v1h-2zM203 232h1v1h-1zM208 232h4v1h-4zM220 232h1v1h-1zM306 232h3v1h-3zM310 232h29v1h-29zM443 232h1v1h-1zM447 232h1v1h-1zM449 232h1v1h-1zM451 232h4v1h-4zM457 232h3v1h-3zM73 233h1v1h-1zM75 233h1v1h-1zM91 233h1v1h-1zM179 233h1v1h-1zM197 233h1v1h-1zM219 233h1v1h-1zM308 233h2v1h-2zM311 233h14v1h-14zM326 233h13v1h-13zM441 233h5v1h-5zM448 233h2v1h-2zM452 233h3v1h-3zM456 233h1v1h-1zM68 234h2v1h-2zM80 234h1v1h-1zM87 234h1v1h-1zM91 234h1v1h-1zM308 234h2v1h-2zM311 234h26v1h-26zM443 234h5v1h-5zM451 234h1v1h-1zM459 234h1v1h-1zM69 235h1v1h-1zM87 235h1v1h-1zM92 235h1v1h-1zM306 235h31v1h-31zM433 235h3v1h-3zM437 235h1v1h-1zM443 235h5v1h-5zM449 235h4v1h-4zM459 235h2v1h-2zM67 236h1v1h-1zM69 236h1v1h-1zM83 236h1v1h-1zM88 236h1v1h-1zM306 236h31v1h-31zM430 236h1v1h-1zM432 236h4v1h-4zM437 236h1v1h-1zM444 236h1v1h-1zM446 236h5v1h-5zM453 236h4v1h-4zM76 237h1v1h-1zM88 237h1v1h-1zM163 237h1v1h-1zM306 237h16v1h-16zM323 237h14v1h-14zM432 237h3v1h-3zM437 237h1v1h-1zM439 237h2v1h-2zM443 237h1v1h-1zM445 237h12v1h-12zM460 237h1v1h-1zM465 237h1v1h-1zM76 238h1v1h-1zM306 238h14v1h-14zM321 238h3v1h-3zM325 238h12v1h-12zM431 238h3v1h-3zM436 238h5v1h-5zM443 238h2v1h-2zM447 238h6v1h-6zM454 238h1v1h-1zM460 238h1v1h-1zM69 239h2v1h-2zM81 239h1v1h-1zM84 239h1v1h-1zM86 239h2v1h-2zM306 239h9v1h-9zM316 239h22v1h-22zM431 239h9v1h-9zM441 239h7v1h-7zM450 239h6v1h-6zM69 240h1v1h-1zM86 240h2v1h-2zM305 240h8v1h-8zM314 240h7v1h-7zM322 240h16v1h-16zM339 240h1v1h-1zM429 240h1v1h-1zM433 240h7v1h-7zM441 240h8v1h-8zM451 240h5v1h-5zM306 241h15v1h-15zM322 241h1v1h-1zM324 241h13v1h-13zM340 241h1v1h-1zM429 241h3v1h-3zM437 241h3v1h-3zM441 241h4v1h-4zM446 241h5v1h-5zM452 241h4v1h-4zM306 242h1v1h-1zM309 242h2v1h-2zM312 242h1v1h-1zM314 242h14v1h-14zM329 242h8v1h-8zM429 242h2v1h-2zM432 242h1v1h-1zM434 242h3v1h-3zM438 242h1v1h-1zM441 242h3v1h-3zM445 242h6v1h-6zM453 242h2v1h-2zM306 243h1v1h-1zM309 243h1v1h-1zM312 243h25v1h-25zM429 243h1v1h-1zM433 243h4v1h-4zM438 243h1v1h-1zM440 243h15v1h-15zM458 243h2v1h-2zM306 244h4v1h-4zM312 244h3v1h-3zM319 244h5v1h-5zM326 244h11v1h-11zM434 244h5v1h-5zM440 244h6v1h-6zM447 244h9v1h-9zM210 245h1v1h-1zM306 245h2v1h-2zM311 245h4v1h-4zM318 245h6v1h-6zM326 245h2v1h-2zM329 245h2v1h-2zM332 245h4v1h-4zM429 245h1v1h-1zM431 245h1v1h-1zM434 245h5v1h-5zM440 245h5v1h-5zM446 245h6v1h-6zM453 245h3v1h-3zM460 245h1v1h-1zM211 246h1v1h-1zM306 246h2v1h-2zM309 246h1v1h-1zM320 246h5v1h-5zM326 246h5v1h-5zM333 246h3v1h-3zM437 246h2v1h-2zM440 246h1v1h-1zM443 246h1v1h-1zM446 246h10v1h-10zM210 247h1v1h-1zM306 247h4v1h-4zM316 247h3v1h-3zM320 247h1v1h-1zM322 247h10v1h-10zM333 247h1v1h-1zM431 247h8v1h-8zM440 247h2v1h-2zM444 247h14v1h-14zM305 248h4v1h-4zM310 248h5v1h-5zM318 248h1v1h-1zM320 248h1v1h-1zM322 248h5v1h-5zM328 248h11v1h-11zM431 248h1v1h-1zM434 248h4v1h-4zM439 248h6v1h-6zM446 248h6v1h-6zM455 248h1v1h-1zM458 248h1v1h-1zM306 249h1v1h-1zM309 249h2v1h-2zM312 249h2v1h-2zM316 249h2v1h-2zM320 249h17v1h-17zM434 249h1v1h-1zM436 249h1v1h-1zM438 249h12v1h-12zM451 249h1v1h-1zM454 249h2v1h-2zM462 249h1v1h-1zM228 250h1v1h-1zM308 250h2v1h-2zM313 250h1v1h-1zM316 250h1v1h-1zM320 250h3v1h-3zM324 250h6v1h-6zM332 250h2v1h-2zM429 250h5v1h-5zM436 250h12v1h-12zM449 250h6v1h-6zM310 251h4v1h-4zM316 251h1v1h-1zM319 251h5v1h-5zM326 251h1v1h-1zM328 251h7v1h-7zM337 251h1v1h-1zM429 251h4v1h-4zM436 251h10v1h-10zM447 251h8v1h-8zM311 252h2v1h-2zM320 252h6v1h-6zM327 252h10v1h-10zM339 252h1v1h-1zM429 252h1v1h-1zM436 252h3v1h-3zM440 252h7v1h-7zM448 252h1v1h-1zM450 252h4v1h-4zM455 252h1v1h-1zM459 252h1v1h-1zM306 253h4v1h-4zM312 253h2v1h-2zM320 253h2v1h-2zM323 253h3v1h-3zM328 253h9v1h-9zM431 253h1v1h-1zM433 253h7v1h-7zM441 253h2v1h-2zM444 253h4v1h-4zM449 253h2v1h-2zM453 253h1v1h-1zM459 253h1v1h-1zM72 254h1v1h-1zM307 254h2v1h-2zM310 254h1v1h-1zM312 254h1v1h-1zM316 254h1v1h-1zM320 254h1v1h-1zM323 254h3v1h-3zM327 254h10v1h-10zM431 254h1v1h-1zM433 254h3v1h-3zM437 254h10v1h-10zM448 254h4v1h-4zM454 254h2v1h-2zM83 255h1v1h-1zM312 255h1v1h-1zM314 255h1v1h-1zM316 255h2v1h-2zM320 255h16v1h-16zM431 255h7v1h-7zM439 255h1v1h-1zM444 255h11v1h-11zM306 256h1v1h-1zM310 256h1v1h-1zM312 256h1v1h-1zM314 256h10v1h-10zM327 256h10v1h-10zM339 256h1v1h-1zM429 256h1v1h-1zM431 256h2v1h-2zM434 256h2v1h-2zM441 256h11v1h-11zM454 256h1v1h-1zM200 257h1v1h-1zM307 257h2v1h-2zM312 257h1v1h-1zM314 257h4v1h-4zM320 257h4v1h-4zM325 257h1v1h-1zM327 257h2v1h-2zM330 257h7v1h-7zM339 257h1v1h-1zM431 257h1v1h-1zM436 257h12v1h-12zM449 257h3v1h-3zM454 257h2v1h-2zM307 258h2v1h-2zM314 258h1v1h-1zM318 258h1v1h-1zM323 258h1v1h-1zM328 258h1v1h-1zM330 258h5v1h-5zM430 258h4v1h-4zM436 258h13v1h-13zM451 258h5v1h-5zM454 259h1v1h-1z"/>
<rect x="34.5" y="23.0" width="89.5" height="76.0" fill="none" stroke="#1c1c1c" stroke-width="1.35"/>
<path d="M69.7 23.0V99.0M34.5 80.3H124.0" stroke="#1c1c1c" stroke-width="1.35"/>
<path d="M31.5 99.0H34.5M32.4 93.3H34.5M32.4 89.9H34.5M32.4 87.6H34.5M32.4 85.7H34.5M32.4 84.2H34.5M32.4 82.9H34.5M32.4 81.8H34.5M32.4 80.9H34.5M31.5 80.0H34.5M32.4 74.3H34.5M32.4 70.9H34.5M32.4 68.6H34.5M32.4 66.7H34.5M32.4 65.2H34.5M32.4 63.9H34.5M32.4 62.8H34.5M32.4 61.9H34.5M31.5 61.0H34.5M32.4 55.3H34.5M32.4 51.9H34.5M32.4 49.6H34.5M32.4 47.7H34.5M32.4 46.2H34.5M32.4 44.9H34.5M32.4 43.8H34.5M32.4 42.9H34.5M31.5 42.0H34.5M32.4 36.3H34.5M32.4 32.9H34.5M32.4 30.6H34.5M32.4 28.7H34.5M32.4 27.2H34.5M32.4 25.9H34.5M32.4 24.8H34.5M32.4 23.9H34.5M31.5 23.0H34.5M34.5 99.0V102.0M41.2 99.0V101.1M45.2 99.0V101.1M48.0 99.0V101.1M50.1 99.0V101.1M51.9 99.0V101.1M53.4 99.0V101.1M54.7 99.0V101.1M55.9 99.0V101.1M56.9 99.0V102.0M63.6 99.0V101.1M67.6 99.0V101.1M70.3 99.0V101.1M72.5 99.0V101.1M74.3 99.0V101.1M75.8 99.0V101.1M77.1 99.0V101.1M78.2 99.0V101.1M79.2 99.0V102.0M86.0 99.0V101.1M89.9 99.0V101.1M92.7 99.0V101.1M94.9 99.0V101.1M96.7 99.0V101.1M98.2 99.0V101.1M99.5 99.0V101.1M100.6 99.0V101.1M101.6 99.0V102.0M108.4 99.0V101.1M112.3 99.0V101.1M115.1 99.0V101.1M117.3 99.0V101.1M119.0 99.0V101.1M120.5 99.0V101.1M121.8 99.0V101.1M123.0 99.0V101.1M124.0 99.0V102.0" stroke="#1c1c1c" stroke-width="1.0"/>
<text x="30.7" y="99.6" class="tl" text-anchor="end">10<tspan class="sup" dy="-2.6">0</tspan></text>
<text x="32.2" y="109.6" class="tl">10<tspan class="sup" dy="-2.6">0</tspan></text>
<text x="30.7" y="81.2" class="tl" text-anchor="end">10<tspan class="sup" dy="-2.6">1</tspan></text>
<text x="53.3" y="109.6" class="tl">10<tspan class="sup" dy="-2.6">1</tspan></text>
<text x="30.7" y="62.7" class="tl" text-anchor="end">10<tspan class="sup" dy="-2.6">2</tspan></text>
<text x="74.5" y="109.6" class="tl">10<tspan class="sup" dy="-2.6">2</tspan></text>
<text x="30.7" y="44.2" class="tl" text-anchor="end">10<tspan class="sup" dy="-2.6">3</tspan></text>
<text x="95.6" y="109.6" class="tl">10<tspan class="sup" dy="-2.6">3</tspan></text>
<text x="30.7" y="25.8" class="tl" text-anchor="end">10<tspan class="sup" dy="-2.6">4</tspan></text>
<text x="116.7" y="109.6" class="tl">10<tspan class="sup" dy="-2.6">4</tspan></text>
<rect x="157.8" y="23.0" width="88.4" height="75.5" fill="none" stroke="#1c1c1c" stroke-width="1.35"/>
<path d="M190.0 23.0V98.5M157.8 79.7H246.2" stroke="#1c1c1c" stroke-width="1.35"/>
<path d="M154.8 98.5H157.8M155.7 92.8H157.8M155.7 89.5H157.8M155.7 87.1H157.8M155.7 85.3H157.8M155.7 83.8H157.8M155.7 82.5H157.8M155.7 81.5H157.8M155.7 80.5H157.8M154.8 79.6H157.8M155.7 73.9H157.8M155.7 70.6H157.8M155.7 68.3H157.8M155.7 66.4H157.8M155.7 64.9H157.8M155.7 63.7H157.8M155.7 62.6H157.8M155.7 61.6H157.8M154.8 60.8H157.8M155.7 55.1H157.8M155.7 51.7H157.8M155.7 49.4H157.8M155.7 47.6H157.8M155.7 46.1H157.8M155.7 44.8H157.8M155.7 43.7H157.8M155.7 42.7H157.8M154.8 41.9H157.8M155.7 36.2H157.8M155.7 32.9H157.8M155.7 30.5H157.8M155.7 28.7H157.8M155.7 27.2H157.8M155.7 25.9H157.8M155.7 24.8H157.8M155.7 23.9H157.8M154.8 23.0H157.8M157.8 98.5V101.5M164.5 98.5V100.6M168.3 98.5V100.6M171.1 98.5V100.6M173.2 98.5V100.6M175.0 98.5V100.6M176.5 98.5V100.6M177.8 98.5V100.6M178.9 98.5V100.6M179.9 98.5V101.5M186.6 98.5V100.6M190.4 98.5V100.6M193.2 98.5V100.6M195.3 98.5V100.6M197.1 98.5V100.6M198.6 98.5V100.6M199.9 98.5V100.6M201.0 98.5V100.6M202.0 98.5V101.5M208.7 98.5V100.6M212.5 98.5V100.6M215.3 98.5V100.6M217.4 98.5V100.6M219.2 98.5V100.6M220.7 98.5V100.6M222.0 98.5V100.6M223.1 98.5V100.6M224.1 98.5V101.5M230.8 98.5V100.6M234.6 98.5V100.6M237.4 98.5V100.6M239.5 98.5V100.6M241.3 98.5V100.6M242.8 98.5V100.6M244.1 98.5V100.6M245.2 98.5V100.6M246.2 98.5V101.5" stroke="#1c1c1c" stroke-width="1.0"/>
<text x="154.0" y="99.1" class="tl" text-anchor="end">10<tspan class="sup" dy="-2.6">0</tspan></text>
<text x="155.5" y="109.1" class="tl">10<tspan class="sup" dy="-2.6">0</tspan></text>
<text x="154.0" y="80.8" class="tl" text-anchor="end">10<tspan class="sup" dy="-2.6">1</tspan></text>
<text x="176.3" y="109.1" class="tl">10<tspan class="sup" dy="-2.6">1</tspan></text>
<text x="154.0" y="62.4" class="tl" text-anchor="end">10<tspan class="sup" dy="-2.6">2</tspan></text>
<text x="197.2" y="109.1" class="tl">10<tspan class="sup" dy="-2.6">2</tspan></text>
<text x="154.0" y="44.1" class="tl" text-anchor="end">10<tspan class="sup" dy="-2.6">3</tspan></text>
<text x="218.0" y="109.1" class="tl">10<tspan class="sup" dy="-2.6">3</tspan></text>
<text x="154.0" y="25.8" class="tl" text-anchor="end">10<tspan class="sup" dy="-2.6">4</tspan></text>
<text x="238.9" y="109.1" class="tl">10<tspan class="sup" dy="-2.6">4</tspan></text>
<rect x="306.8" y="23.0" width="88.2" height="76.0" fill="none" stroke="#1c1c1c" stroke-width="1.35"/>
<path d="M335.7 23.0V99.0M306.8 83.5H395.0" stroke="#1c1c1c" stroke-width="1.35"/>
<path d="M303.8 99.0H306.8M304.7 93.3H306.8M304.7 89.9H306.8M304.7 87.6H306.8M304.7 85.7H306.8M304.7 84.2H306.8M304.7 82.9H306.8M304.7 81.8H306.8M304.7 80.9H306.8M303.8 80.0H306.8M304.7 74.3H306.8M304.7 70.9H306.8M304.7 68.6H306.8M304.7 66.7H306.8M304.7 65.2H306.8M304.7 63.9H306.8M304.7 62.8H306.8M304.7 61.9H306.8M303.8 61.0H306.8M304.7 55.3H306.8M304.7 51.9H306.8M304.7 49.6H306.8M304.7 47.7H306.8M304.7 46.2H306.8M304.7 44.9H306.8M304.7 43.8H306.8M304.7 42.9H306.8M303.8 42.0H306.8M304.7 36.3H306.8M304.7 32.9H306.8M304.7 30.6H306.8M304.7 28.7H306.8M304.7 27.2H306.8M304.7 25.9H306.8M304.7 24.8H306.8M304.7 23.9H306.8M303.8 23.0H306.8M306.8 99.0V102.0M313.4 99.0V101.1M317.3 99.0V101.1M320.1 99.0V101.1M322.2 99.0V101.1M324.0 99.0V101.1M325.4 99.0V101.1M326.7 99.0V101.1M327.8 99.0V101.1M328.9 99.0V102.0M335.5 99.0V101.1M339.4 99.0V101.1M342.1 99.0V101.1M344.3 99.0V101.1M346.0 99.0V101.1M347.5 99.0V101.1M348.8 99.0V101.1M349.9 99.0V101.1M350.9 99.0V102.0M357.5 99.0V101.1M361.4 99.0V101.1M364.2 99.0V101.1M366.3 99.0V101.1M368.1 99.0V101.1M369.5 99.0V101.1M370.8 99.0V101.1M371.9 99.0V101.1M372.9 99.0V102.0M379.6 99.0V101.1M383.5 99.0V101.1M386.2 99.0V101.1M388.4 99.0V101.1M390.1 99.0V101.1M391.6 99.0V101.1M392.9 99.0V101.1M394.0 99.0V101.1M395.0 99.0V102.0" stroke="#1c1c1c" stroke-width="1.0"/>
<text x="303.0" y="99.6" class="tl" text-anchor="end">10<tspan class="sup" dy="-2.6">0</tspan></text>
<text x="304.5" y="109.6" class="tl">10<tspan class="sup" dy="-2.6">0</tspan></text>
<text x="303.0" y="81.2" class="tl" text-anchor="end">10<tspan class="sup" dy="-2.6">1</tspan></text>
<text x="325.3" y="109.6" class="tl">10<tspan class="sup" dy="-2.6">1</tspan></text>
<text x="303.0" y="62.7" class="tl" text-anchor="end">10<tspan class="sup" dy="-2.6">2</tspan></text>
<text x="346.1" y="109.6" class="tl">10<tspan class="sup" dy="-2.6">2</tspan></text>
<text x="303.0" y="44.2" class="tl" text-anchor="end">10<tspan class="sup" dy="-2.6">3</tspan></text>
<text x="366.9" y="109.6" class="tl">10<tspan class="sup" dy="-2.6">3</tspan></text>
<text x="303.0" y="25.8" class="tl" text-anchor="end">10<tspan class="sup" dy="-2.6">4</tspan></text>
<text x="387.7" y="109.6" class="tl">10<tspan class="sup" dy="-2.6">4</tspan></text>
<rect x="425.2" y="22.5" width="88.3" height="76.5" fill="none" stroke="#1c1c1c" stroke-width="1.35"/>
<path d="M461.5 22.5V99.0M425.2 81.5H513.5" stroke="#1c1c1c" stroke-width="1.35"/>
<path d="M422.2 99.0H425.2M423.1 93.2H425.2M423.1 89.9H425.2M423.1 87.5H425.2M423.1 85.6H425.2M423.1 84.1H425.2M423.1 82.8H425.2M423.1 81.7H425.2M423.1 80.8H425.2M422.2 79.9H425.2M423.1 74.1H425.2M423.1 70.8H425.2M423.1 68.4H425.2M423.1 66.5H425.2M423.1 65.0H425.2M423.1 63.7H425.2M423.1 62.6H425.2M423.1 61.6H425.2M422.2 60.8H425.2M423.1 55.0H425.2M423.1 51.6H425.2M423.1 49.2H425.2M423.1 47.4H425.2M423.1 45.9H425.2M423.1 44.6H425.2M423.1 43.5H425.2M423.1 42.5H425.2M422.2 41.6H425.2M423.1 35.9H425.2M423.1 32.5H425.2M423.1 30.1H425.2M423.1 28.3H425.2M423.1 26.7H425.2M423.1 25.5H425.2M423.1 24.4H425.2M423.1 23.4H425.2M422.2 22.5H425.2M425.2 99.0V102.0M431.8 99.0V101.1M435.7 99.0V101.1M438.5 99.0V101.1M440.6 99.0V101.1M442.4 99.0V101.1M443.9 99.0V101.1M445.1 99.0V101.1M446.3 99.0V101.1M447.3 99.0V102.0M453.9 99.0V101.1M457.8 99.0V101.1M460.6 99.0V101.1M462.7 99.0V101.1M464.5 99.0V101.1M465.9 99.0V101.1M467.2 99.0V101.1M468.3 99.0V101.1M469.4 99.0V102.0M476.0 99.0V101.1M479.9 99.0V101.1M482.6 99.0V101.1M484.8 99.0V101.1M486.5 99.0V101.1M488.0 99.0V101.1M489.3 99.0V101.1M490.4 99.0V101.1M491.4 99.0V102.0M498.1 99.0V101.1M502.0 99.0V101.1M504.7 99.0V101.1M506.9 99.0V101.1M508.6 99.0V101.1M510.1 99.0V101.1M511.4 99.0V101.1M512.5 99.0V101.1M513.5 99.0V102.0" stroke="#1c1c1c" stroke-width="1.0"/>
<text x="421.4" y="99.6" class="tl" text-anchor="end">10<tspan class="sup" dy="-2.6">0</tspan></text>
<text x="422.9" y="109.6" class="tl">10<tspan class="sup" dy="-2.6">0</tspan></text>
<text x="421.4" y="81.0" class="tl" text-anchor="end">10<tspan class="sup" dy="-2.6">1</tspan></text>
<text x="443.7" y="109.6" class="tl">10<tspan class="sup" dy="-2.6">1</tspan></text>
<text x="421.4" y="62.4" class="tl" text-anchor="end">10<tspan class="sup" dy="-2.6">2</tspan></text>
<text x="464.5" y="109.6" class="tl">10<tspan class="sup" dy="-2.6">2</tspan></text>
<text x="421.4" y="43.9" class="tl" text-anchor="end">10<tspan class="sup" dy="-2.6">3</tspan></text>
<text x="485.4" y="109.6" class="tl">10<tspan class="sup" dy="-2.6">3</tspan></text>
<text x="421.4" y="25.3" class="tl" text-anchor="end">10<tspan class="sup" dy="-2.6">4</tspan></text>
<text x="506.2" y="109.6" class="tl">10<tspan class="sup" dy="-2.6">4</tspan></text>
<rect x="34.8" y="181.5" width="89.2" height="79.8" fill="none" stroke="#1c1c1c" stroke-width="1.35"/>
<path d="M66.5 181.5V261.3M34.8 241.5H124.0" stroke="#1c1c1c" stroke-width="1.35"/>
<path d="M31.8 261.3H34.8M32.7 255.3H34.8M32.7 251.8H34.8M32.7 249.3H34.8M32.7 247.4H34.8M32.7 245.8H34.8M32.7 244.4H34.8M32.7 243.3H34.8M32.7 242.3H34.8M31.8 241.4H34.8M32.7 235.3H34.8M32.7 231.8H34.8M32.7 229.3H34.8M32.7 227.4H34.8M32.7 225.8H34.8M32.7 224.5H34.8M32.7 223.3H34.8M32.7 222.3H34.8M31.8 221.4H34.8M32.7 215.4H34.8M32.7 211.9H34.8M32.7 209.4H34.8M32.7 207.5H34.8M32.7 205.9H34.8M32.7 204.5H34.8M32.7 203.4H34.8M32.7 202.4H34.8M31.8 201.4H34.8M32.7 195.4H34.8M32.7 191.9H34.8M32.7 189.4H34.8M32.7 187.5H34.8M32.7 185.9H34.8M32.7 184.6H34.8M32.7 183.4H34.8M32.7 182.4H34.8M31.8 181.5H34.8M34.8 261.3V264.3M41.5 261.3V263.4M45.4 261.3V263.4M48.2 261.3V263.4M50.4 261.3V263.4M52.2 261.3V263.4M53.6 261.3V263.4M54.9 261.3V263.4M56.1 261.3V263.4M57.1 261.3V264.3M63.8 261.3V263.4M67.7 261.3V263.4M70.5 261.3V263.4M72.7 261.3V263.4M74.5 261.3V263.4M75.9 261.3V263.4M77.2 261.3V263.4M78.4 261.3V263.4M79.4 261.3V264.3M86.1 261.3V263.4M90.0 261.3V263.4M92.8 261.3V263.4M95.0 261.3V263.4M96.8 261.3V263.4M98.2 261.3V263.4M99.5 261.3V263.4M100.7 261.3V263.4M101.7 261.3V264.3M108.4 261.3V263.4M112.3 261.3V263.4M115.1 261.3V263.4M117.3 261.3V263.4M119.1 261.3V263.4M120.5 261.3V263.4M121.8 261.3V263.4M123.0 261.3V263.4M124.0 261.3V264.3" stroke="#1c1c1c" stroke-width="1.0"/>
<text x="31.0" y="260.2" class="tl" text-anchor="end">10<tspan class="sup" dy="-2.6">0</tspan></text>
<text x="32.5" y="270.6" class="tl">10<tspan class="sup" dy="-2.6">0</tspan></text>
<text x="31.0" y="241.9" class="tl" text-anchor="end">10<tspan class="sup" dy="-2.6">1</tspan></text>
<text x="53.5" y="270.6" class="tl">10<tspan class="sup" dy="-2.6">1</tspan></text>
<text x="31.0" y="223.6" class="tl" text-anchor="end">10<tspan class="sup" dy="-2.6">2</tspan></text>
<text x="74.6" y="270.6" class="tl">10<tspan class="sup" dy="-2.6">2</tspan></text>
<text x="31.0" y="205.2" class="tl" text-anchor="end">10<tspan class="sup" dy="-2.6">3</tspan></text>
<text x="95.7" y="270.6" class="tl">10<tspan class="sup" dy="-2.6">3</tspan></text>
<text x="31.0" y="186.9" class="tl" text-anchor="end">10<tspan class="sup" dy="-2.6">4</tspan></text>
<text x="116.7" y="270.6" class="tl">10<tspan class="sup" dy="-2.6">4</tspan></text>
<rect x="158.7" y="181.5" width="88.6" height="78.8" fill="none" stroke="#1c1c1c" stroke-width="1.35"/>
<path d="M190.3 181.5V260.3M158.7 238.5H247.3" stroke="#1c1c1c" stroke-width="1.35"/>
<path d="M155.7 260.3H158.7M156.6 254.4H158.7M156.6 250.9H158.7M156.6 248.4H158.7M156.6 246.5H158.7M156.6 245.0H158.7M156.6 243.7H158.7M156.6 242.5H158.7M156.6 241.5H158.7M155.7 240.6H158.7M156.6 234.7H158.7M156.6 231.2H158.7M156.6 228.7H158.7M156.6 226.8H158.7M156.6 225.3H158.7M156.6 224.0H158.7M156.6 222.8H158.7M156.6 221.8H158.7M155.7 220.9H158.7M156.6 215.0H158.7M156.6 211.5H158.7M156.6 209.0H158.7M156.6 207.1H158.7M156.6 205.6H158.7M156.6 204.3H158.7M156.6 203.1H158.7M156.6 202.1H158.7M155.7 201.2H158.7M156.6 195.3H158.7M156.6 191.8H158.7M156.6 189.3H158.7M156.6 187.4H158.7M156.6 185.9H158.7M156.6 184.6H158.7M156.6 183.4H158.7M156.6 182.4H158.7M155.7 181.5H158.7M158.7 260.3V263.3M165.4 260.3V262.4M169.3 260.3V262.4M172.0 260.3V262.4M174.2 260.3V262.4M175.9 260.3V262.4M177.4 260.3V262.4M178.7 260.3V262.4M179.8 260.3V262.4M180.8 260.3V263.3M187.5 260.3V262.4M191.4 260.3V262.4M194.2 260.3V262.4M196.3 260.3V262.4M198.1 260.3V262.4M199.6 260.3V262.4M200.9 260.3V262.4M202.0 260.3V262.4M203.0 260.3V263.3M209.7 260.3V262.4M213.6 260.3V262.4M216.3 260.3V262.4M218.5 260.3V262.4M220.2 260.3V262.4M221.7 260.3V262.4M223.0 260.3V262.4M224.1 260.3V262.4M225.2 260.3V263.3M231.8 260.3V262.4M235.7 260.3V262.4M238.5 260.3V262.4M240.6 260.3V262.4M242.4 260.3V262.4M243.9 260.3V262.4M245.2 260.3V262.4M246.3 260.3V262.4M247.3 260.3V263.3" stroke="#1c1c1c" stroke-width="1.0"/>
<text x="154.9" y="259.2" class="tl" text-anchor="end">10<tspan class="sup" dy="-2.6">0</tspan></text>
<text x="156.4" y="269.6" class="tl">10<tspan class="sup" dy="-2.6">0</tspan></text>
<text x="154.9" y="241.1" class="tl" text-anchor="end">10<tspan class="sup" dy="-2.6">1</tspan></text>
<text x="177.3" y="269.6" class="tl">10<tspan class="sup" dy="-2.6">1</tspan></text>
<text x="154.9" y="223.1" class="tl" text-anchor="end">10<tspan class="sup" dy="-2.6">2</tspan></text>
<text x="198.2" y="269.6" class="tl">10<tspan class="sup" dy="-2.6">2</tspan></text>
<text x="154.9" y="205.0" class="tl" text-anchor="end">10<tspan class="sup" dy="-2.6">3</tspan></text>
<text x="219.1" y="269.6" class="tl">10<tspan class="sup" dy="-2.6">3</tspan></text>
<text x="154.9" y="186.9" class="tl" text-anchor="end">10<tspan class="sup" dy="-2.6">4</tspan></text>
<text x="240.0" y="269.6" class="tl">10<tspan class="sup" dy="-2.6">4</tspan></text>
<rect x="304.3" y="182.5" width="89.7" height="77.3" fill="none" stroke="#1c1c1c" stroke-width="1.35"/>
<path d="M333.3 182.5V259.8M304.3 232.8H394.0" stroke="#1c1c1c" stroke-width="1.35"/>
<path d="M301.3 259.8H304.3M302.2 254.0H304.3M302.2 250.6H304.3M302.2 248.2H304.3M302.2 246.3H304.3M302.2 244.8H304.3M302.2 243.5H304.3M302.2 242.3H304.3M302.2 241.4H304.3M301.3 240.5H304.3M302.2 234.7H304.3M302.2 231.3H304.3M302.2 228.8H304.3M302.2 227.0H304.3M302.2 225.4H304.3M302.2 224.1H304.3M302.2 223.0H304.3M302.2 222.0H304.3M301.3 221.2H304.3M302.2 215.3H304.3M302.2 211.9H304.3M302.2 209.5H304.3M302.2 207.6H304.3M302.2 206.1H304.3M302.2 204.8H304.3M302.2 203.7H304.3M302.2 202.7H304.3M301.3 201.8H304.3M302.2 196.0H304.3M302.2 192.6H304.3M302.2 190.2H304.3M302.2 188.3H304.3M302.2 186.8H304.3M302.2 185.5H304.3M302.2 184.4H304.3M302.2 183.4H304.3M301.3 182.5H304.3M304.3 259.8V262.8M311.1 259.8V261.9M315.0 259.8V261.9M317.8 259.8V261.9M320.0 259.8V261.9M321.8 259.8V261.9M323.3 259.8V261.9M324.6 259.8V261.9M325.7 259.8V261.9M326.7 259.8V262.8M333.5 259.8V261.9M337.4 259.8V261.9M340.2 259.8V261.9M342.4 259.8V261.9M344.2 259.8V261.9M345.7 259.8V261.9M347.0 259.8V261.9M348.1 259.8V261.9M349.1 259.8V262.8M355.9 259.8V261.9M359.8 259.8V261.9M362.7 259.8V261.9M364.8 259.8V261.9M366.6 259.8V261.9M368.1 259.8V261.9M369.4 259.8V261.9M370.5 259.8V261.9M371.6 259.8V262.8M378.3 259.8V261.9M382.3 259.8V261.9M385.1 259.8V261.9M387.2 259.8V261.9M389.0 259.8V261.9M390.5 259.8V261.9M391.8 259.8V261.9M393.0 259.8V261.9M394.0 259.8V262.8" stroke="#1c1c1c" stroke-width="1.0"/>
<text x="300.5" y="258.7" class="tl" text-anchor="end">10<tspan class="sup" dy="-2.6">0</tspan></text>
<text x="302.0" y="269.1" class="tl">10<tspan class="sup" dy="-2.6">0</tspan></text>
<text x="300.5" y="241.0" class="tl" text-anchor="end">10<tspan class="sup" dy="-2.6">1</tspan></text>
<text x="323.2" y="269.1" class="tl">10<tspan class="sup" dy="-2.6">1</tspan></text>
<text x="300.5" y="223.3" class="tl" text-anchor="end">10<tspan class="sup" dy="-2.6">2</tspan></text>
<text x="344.4" y="269.1" class="tl">10<tspan class="sup" dy="-2.6">2</tspan></text>
<text x="300.5" y="205.6" class="tl" text-anchor="end">10<tspan class="sup" dy="-2.6">3</tspan></text>
<text x="365.5" y="269.1" class="tl">10<tspan class="sup" dy="-2.6">3</tspan></text>
<text x="300.5" y="187.9" class="tl" text-anchor="end">10<tspan class="sup" dy="-2.6">4</tspan></text>
<text x="386.7" y="269.1" class="tl">10<tspan class="sup" dy="-2.6">4</tspan></text>
<rect x="427.7" y="183.0" width="89.3" height="77.5" fill="none" stroke="#1c1c1c" stroke-width="1.35"/>
<path d="M455.0 183.0V260.5M427.7 234.3H517.0" stroke="#1c1c1c" stroke-width="1.35"/>
<path d="M424.7 260.5H427.7M425.6 254.7H427.7M425.6 251.3H427.7M425.6 248.8H427.7M425.6 247.0H427.7M425.6 245.4H427.7M425.6 244.1H427.7M425.6 243.0H427.7M425.6 242.0H427.7M424.7 241.1H427.7M425.6 235.3H427.7M425.6 231.9H427.7M425.6 229.5H427.7M425.6 227.6H427.7M425.6 226.0H427.7M425.6 224.8H427.7M425.6 223.6H427.7M425.6 222.6H427.7M424.7 221.8H427.7M425.6 215.9H427.7M425.6 212.5H427.7M425.6 210.1H427.7M425.6 208.2H427.7M425.6 206.7H427.7M425.6 205.4H427.7M425.6 204.3H427.7M425.6 203.3H427.7M424.7 202.4H427.7M425.6 196.5H427.7M425.6 193.1H427.7M425.6 190.7H427.7M425.6 188.8H427.7M425.6 187.3H427.7M425.6 186.0H427.7M425.6 184.9H427.7M425.6 183.9H427.7M424.7 183.0H427.7M427.7 260.5V263.5M434.4 260.5V262.6M438.4 260.5V262.6M441.1 260.5V262.6M443.3 260.5V262.6M445.1 260.5V262.6M446.6 260.5V262.6M447.9 260.5V262.6M449.0 260.5V262.6M450.0 260.5V263.5M456.7 260.5V262.6M460.7 260.5V262.6M463.5 260.5V262.6M465.6 260.5V262.6M467.4 260.5V262.6M468.9 260.5V262.6M470.2 260.5V262.6M471.3 260.5V262.6M472.4 260.5V263.5M479.1 260.5V262.6M483.0 260.5V262.6M485.8 260.5V262.6M488.0 260.5V262.6M489.7 260.5V262.6M491.2 260.5V262.6M492.5 260.5V262.6M493.7 260.5V262.6M494.7 260.5V263.5M501.4 260.5V262.6M505.3 260.5V262.6M508.1 260.5V262.6M510.3 260.5V262.6M512.0 260.5V262.6M513.5 260.5V262.6M514.8 260.5V262.6M516.0 260.5V262.6M517.0 260.5V263.5" stroke="#1c1c1c" stroke-width="1.0"/>
<text x="423.9" y="259.4" class="tl" text-anchor="end">10<tspan class="sup" dy="-2.6">0</tspan></text>
<text x="425.4" y="269.8" class="tl">10<tspan class="sup" dy="-2.6">0</tspan></text>
<text x="423.9" y="241.7" class="tl" text-anchor="end">10<tspan class="sup" dy="-2.6">1</tspan></text>
<text x="446.5" y="269.8" class="tl">10<tspan class="sup" dy="-2.6">1</tspan></text>
<text x="423.9" y="223.9" class="tl" text-anchor="end">10<tspan class="sup" dy="-2.6">2</tspan></text>
<text x="467.5" y="269.8" class="tl">10<tspan class="sup" dy="-2.6">2</tspan></text>
<text x="423.9" y="206.2" class="tl" text-anchor="end">10<tspan class="sup" dy="-2.6">3</tspan></text>
<text x="488.6" y="269.8" class="tl">10<tspan class="sup" dy="-2.6">3</tspan></text>
<text x="423.9" y="188.4" class="tl" text-anchor="end">10<tspan class="sup" dy="-2.6">4</tspan></text>
<text x="509.7" y="269.8" class="tl">10<tspan class="sup" dy="-2.6">4</tspan></text>
<g stroke="#1c1c1c" stroke-width="1.3" fill="none">
<!-- axes L shapes -->
<path d="M9.3 26V45.5M9.3 77V125.2H120.5M164 125.2H242"/>
<path d="M280.2 26V49M280.2 84.6V125.2H379.2M449 125.4H508.5"/>
<path d="M10 186V206.7M10 241.7V284.6H122.2M161.5 284.8H243"/>
<path d="M279.6 188V205.5M279.6 242.7V286.9H377M442.2 287.2H512"/>
<!-- tables -->
<path d="M48.9 149.6H107.7M77.7 132V167.8"/>
<path d="M171 149.6H230.5M200.3 132V167.8"/>
<path d="M322.8 149.3H381.5M351.8 132V167.3"/>
<path d="M439.7 149.3H498.5M468.9 132V167.3"/>
<path d="M48.9 312.7H107.7M77.7 295V330.8"/>
<path d="M171 312.7H230H230.5M200.3 295V330.4"/>
<path d="M318 310.8H377M347.4 293.5V328.8"/>
<path d="M441.2 310H499.8M470 292.7V328.5"/>
</g>
<g fill="#111">
<path d="M9.4 18.5L13.9 26.5H4.9Z"/>
<path d="M280.2 18.5L284.6 26.2H275.8Z"/>
<path d="M9.6 177.9L14.2 186H5Z"/>
<path d="M280 180.2L284.5 188H275.5Z"/>
<path d="M250 125.3L241.8 121V129.7Z"/>
<path d="M516 125.5L508 120.8V129.8Z"/>
<path d="M250.5 284.9L242.8 280.5V289.2Z"/>
<path d="M520.5 287.2L511.4 282.5V291.8Z"/>
</g>
<text class="t" x="49.93" y="9.0">CONTROL</text>
<text class="t" x="183.07" y="8.3" letter-spacing="-0.5">DAPT</text>
<text class="t" x="321.86" y="8.58">CONTROL</text>
<text class="t" x="451.65" y="8.3" letter-spacing="-0.5">DAPT</text>
<text class="n" x="50.16" y="145.0">18.8</text>
<text class="n" x="80.44" y="145.0">80.4</text>
<text class="n" x="171.74" y="145.0">20.3</text>
<text class="n" x="202.81" y="145.0">77.1</text>
<text class="n" x="323.58" y="145.56">8.2</text>
<text class="n" x="353.74" y="145.56">87.1</text>
<text class="n" x="329.28" y="162.3">1</text>
<text class="n" x="356.28" y="162.3">3.6</text>
<text class="n" x="440.51" y="144.58">56.8</text>
<text class="n" x="474.63" y="145.0">21.5</text>
<text class="n" x="440.88" y="162.0">17.3</text>
<text class="n" x="475.0" y="162.0">4.5</text>
<text class="n" x="48.21" y="308.42">40.3</text>
<text class="n" x="86.12" y="308.42">59</text>
<text class="n" x="84.14" y="327.0">0.6</text>
<text class="n" x="172.72" y="308.42">76.5</text>
<text class="n" x="203.28" y="308.42">21.4</text>
<text class="n" x="174.88" y="325.3">1.1</text>
<text class="n" x="205.63" y="325.3">1.8</text>
<text class="n" x="316.95" y="307.7">21.5</text>
<text class="n" x="350.42" y="307.7">37.6</text>
<text class="n" x="317.58" y="325.7">39.5</text>
<text class="n" x="359.4" y="325.7">0</text>
<text class="n" x="444.93" y="306.7">5.7</text>
<text class="n" x="472.0" y="306.7">18.4</text>
<text class="n" x="441.58" y="324.7">71.9</text>
<text class="ax" x="124.85" y="128.6" letter-spacing="0.4">CD8<tspan class="g" dx="1.5">β</tspan></text>
<text class="ax" x="385.0" y="128.6" letter-spacing="1.15">IC-TCR<tspan class="g" letter-spacing="0">β</tspan></text>
<text class="ax" x="126.77" y="288.54" letter-spacing="2.5">CD3</text>
<text class="ax" x="389.37" y="290.86" letter-spacing="1.2">TCR<tspan class="g" letter-spacing="0.3">αβ</tspan></text>
<text class="ax" transform="translate(13.67 61.15) rotate(-90)" text-anchor="middle" letter-spacing="0.8">CD4</text>
<text class="ax" transform="translate(284.5 65.51) rotate(-90)" text-anchor="middle" letter-spacing="0.8">CD7</text>
<text class="ax" transform="translate(14.0 224.37) rotate(-90)" text-anchor="middle" letter-spacing="0.8">CD4</text>
<text class="ax" transform="translate(284.18 224.37) rotate(-90)" text-anchor="middle" letter-spacing="1.5">CD3</text>
</svg>
</div></body></html>
